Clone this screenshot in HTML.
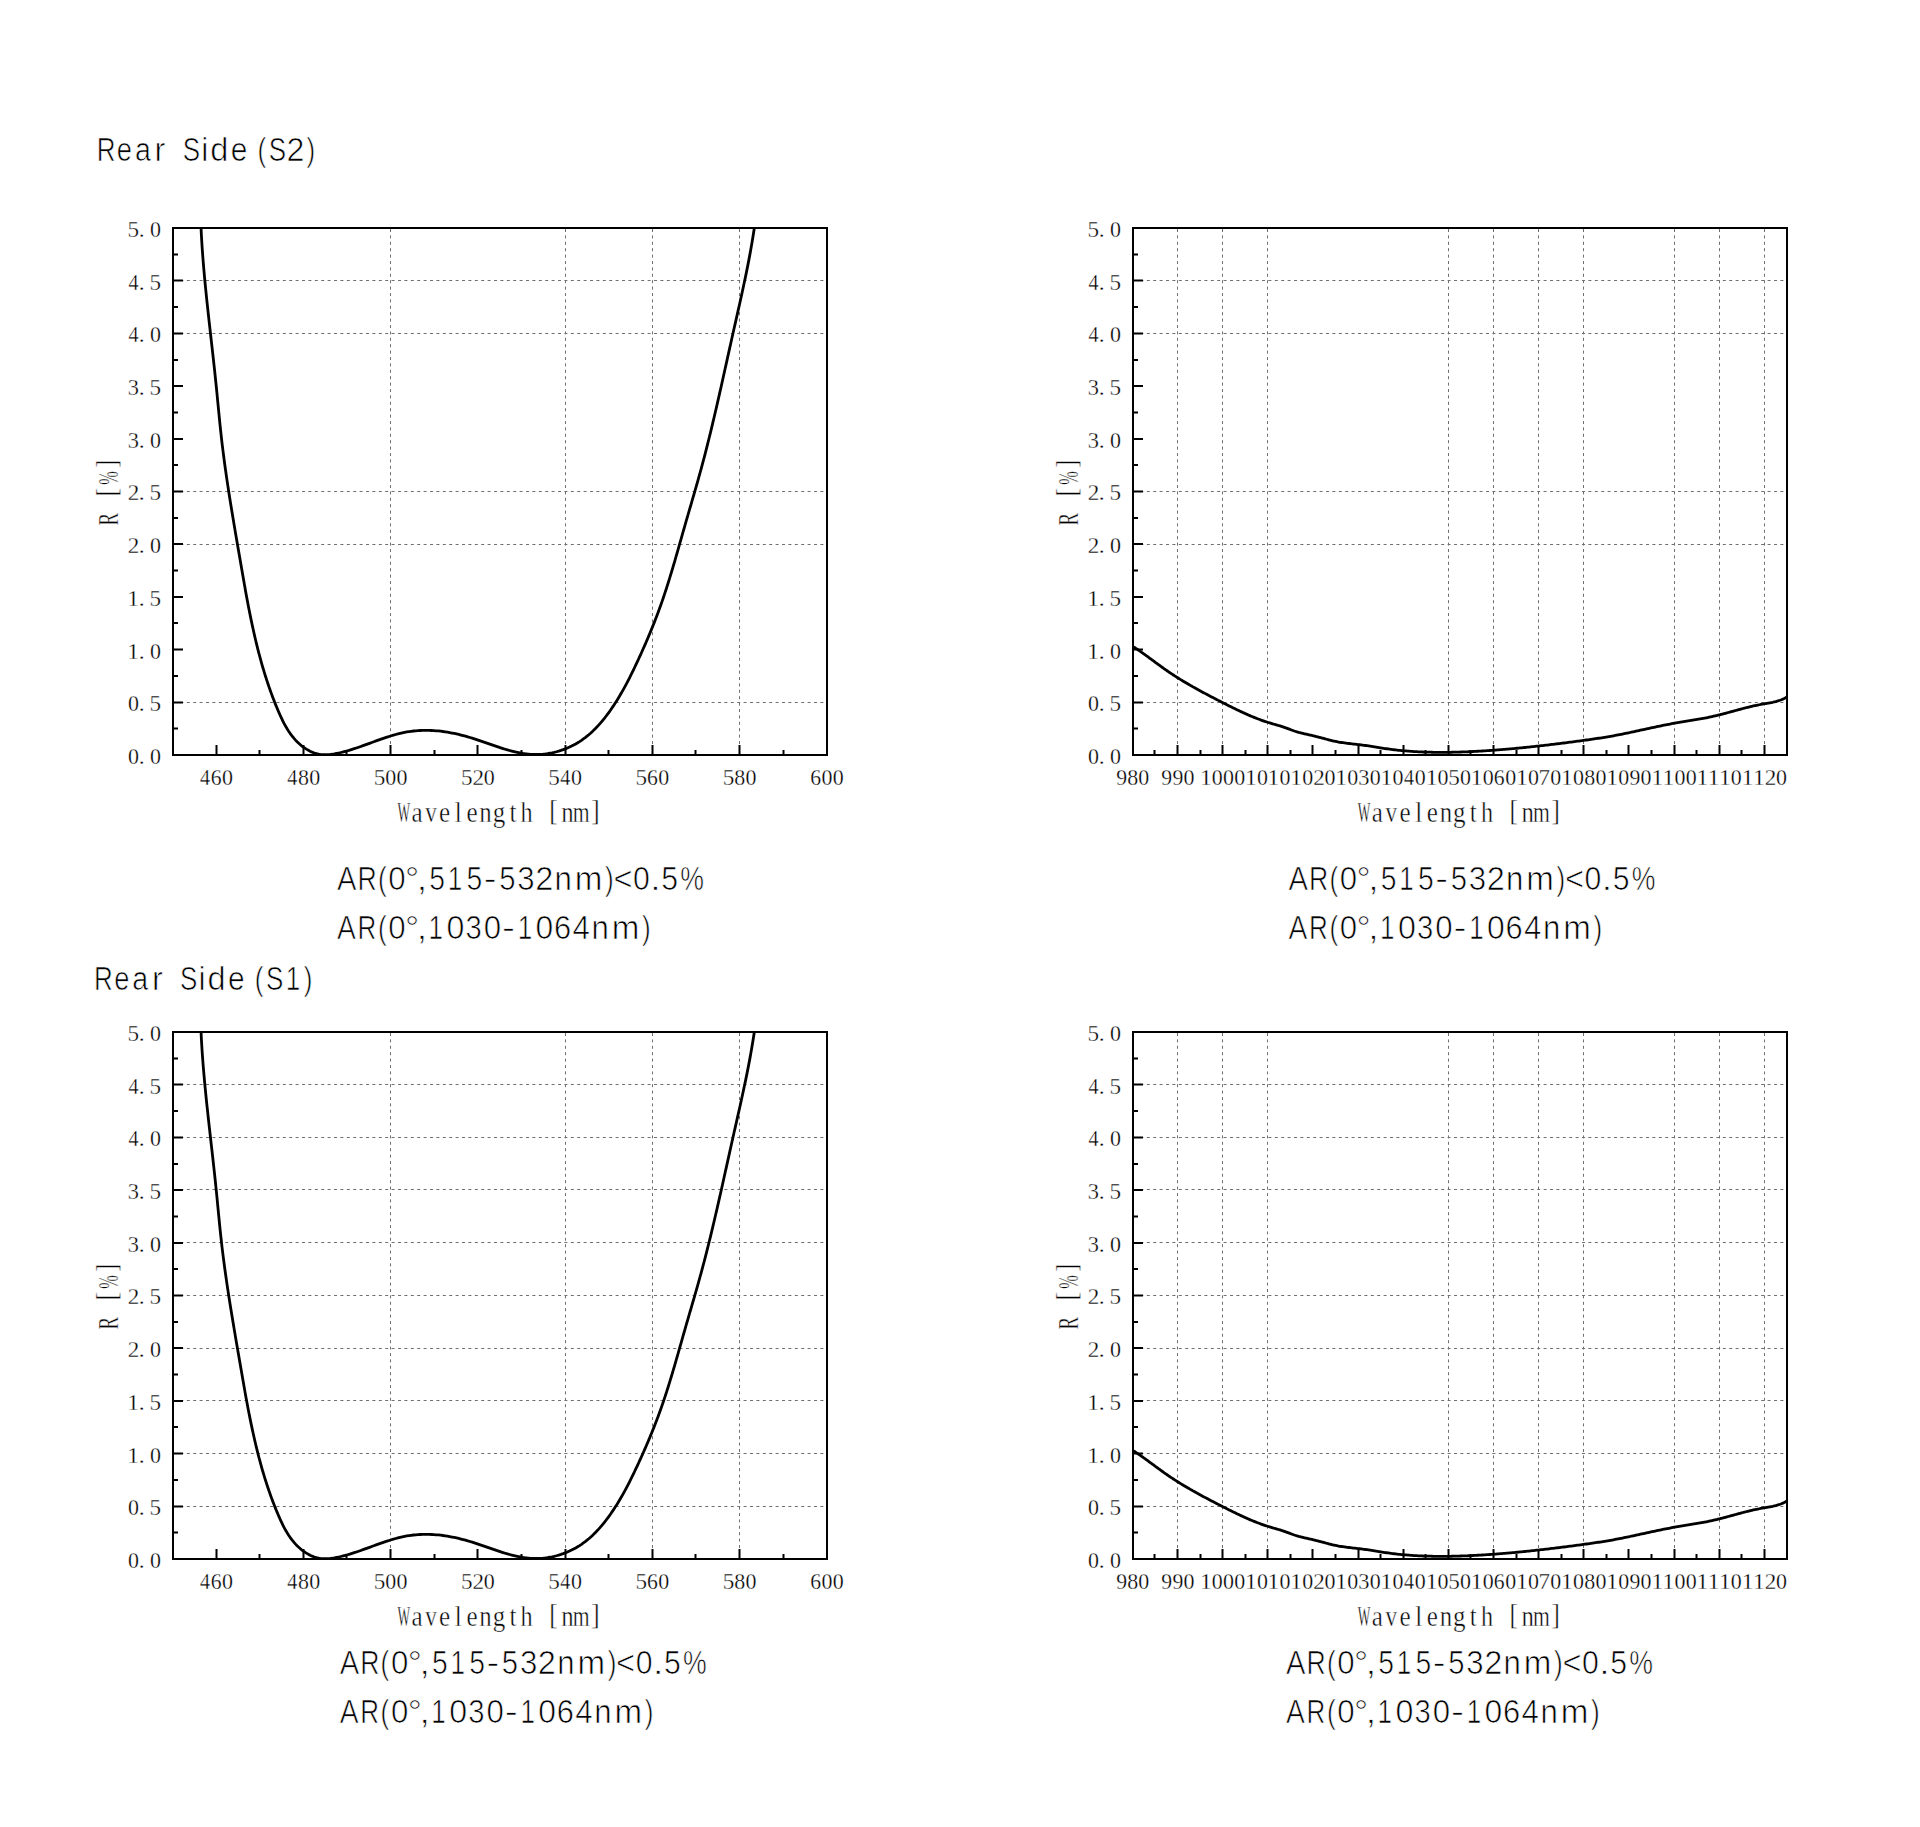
<!DOCTYPE html>
<html><head><meta charset="utf-8"><title>Rear Side Reflectance</title>
<style>html,body{margin:0;padding:0;background:#fff;width:1920px;height:1827px;overflow:hidden}svg{display:block}</style>
</head><body>
<svg width="1920" height="1827" viewBox="0 0 1920 1827">
<rect width="1920" height="1827" fill="#fff"/>
<path d="M174 280.5 H826 M174 333.5 H826 M174 491.5 H826 M174 544.5 H826 M174 702.5 H826 M390.5 229 V754 M565.5 229 V754 M652.5 229 V754 M739.5 229 V754" stroke="#707070" stroke-width="1" stroke-dasharray="3 3.4" fill="none"/>
<path d="M216.5 755 V745 M303.5 755 V745 M390.5 755 V745 M477.5 755 V745 M565.5 755 V745 M652.5 755 V745 M739.5 755 V745 M259.5 755 V750 M346.5 755 V750 M434.5 755 V750 M521.5 755 V750 M608.5 755 V750 M695.5 755 V750 M783.5 755 V750 M173 728.5 H178 M173 702.5 H183 M173 676 H178 M173 649.5 H183 M173 623 H178 M173 597 H183 M173 570.5 H178 M173 544 H183 M173 518 H178 M173 491.5 H183 M173 465 H178 M173 439 H183 M173 412.5 H178 M173 386 H183 M173 360 H178 M173 333.5 H183 M173 307 H178 M173 280.5 H183 M173 254.5 H178" stroke="#000" stroke-width="2" fill="none"/>
<rect x="173" y="228" width="654" height="527" fill="none" stroke="#000" stroke-width="2"/>
<path d="M201.04 227.99 L201.15 230.29 L201.26 232.58 L201.38 234.87 L201.51 237.16 L201.64 239.45 L201.78 241.74 L201.92 244.03 L202.07 246.31 L202.22 248.6 L202.38 250.89 L202.55 253.17 L202.72 255.46 L202.89 257.74 L203.07 260.03 L203.25 262.31 L203.44 264.6 L203.63 266.88 L203.82 269.16 L204.02 271.45 L204.23 273.73 L204.43 276.01 L204.64 278.29 L204.86 280.57 L205.07 282.85 L205.29 285.13 L205.52 287.41 L205.74 289.69 L205.97 291.97 L206.2 294.25 L206.44 296.53 L206.67 298.81 L206.91 301.09 L207.15 303.37 L207.4 305.65 L207.64 307.92 L207.89 310.2 L208.13 312.48 L208.38 314.76 L208.64 317.03 L208.89 319.31 L209.14 321.59 L209.4 323.86 L209.65 326.14 L209.91 328.42 L210.16 330.69 L210.42 332.97 L210.68 335.25 L210.93 337.52 L211.19 339.8 L211.45 342.08 L211.71 344.35 L211.96 346.63 L212.22 348.9 L212.48 351.18 L212.73 353.46 L212.99 355.73 L213.24 358.01 L213.49 360.29 L213.74 362.56 L213.99 364.84 L214.24 367.12 L214.49 369.4 L214.73 371.67 L214.97 373.95 L215.22 376.23 L215.45 378.51 L215.69 380.78 L215.93 383.06 L216.16 385.34 L216.39 387.62 L216.61 389.9 L216.84 392.18 L217.06 394.46 L217.28 396.74 L217.5 399.02 L217.72 401.3 L217.94 403.58 L218.16 405.86 L218.38 408.13 L218.6 410.41 L218.83 412.69 L219.05 414.97 L219.27 417.25 L219.5 419.53 L219.73 421.81 L219.96 424.09 L220.19 426.36 L220.43 428.64 L220.67 430.92 L220.92 433.19 L221.17 435.47 L221.42 437.74 L221.68 440.02 L221.94 442.29 L222.21 444.56 L222.49 446.84 L222.77 449.11 L223.05 451.38 L223.34 453.65 L223.63 455.92 L223.93 458.19 L224.23 460.46 L224.53 462.73 L224.84 465 L225.15 467.27 L225.47 469.54 L225.79 471.8 L226.11 474.07 L226.44 476.34 L226.77 478.6 L227.11 480.87 L227.44 483.13 L227.78 485.4 L228.13 487.66 L228.47 489.93 L228.82 492.19 L229.18 494.45 L229.53 496.72 L229.89 498.98 L230.25 501.24 L230.61 503.5 L230.98 505.77 L231.34 508.03 L231.71 510.29 L232.08 512.55 L232.46 514.81 L232.83 517.07 L233.21 519.34 L233.58 521.6 L233.96 523.86 L234.34 526.12 L234.73 528.38 L235.11 530.64 L235.49 532.9 L235.88 535.16 L236.26 537.42 L236.65 539.68 L237.04 541.94 L237.43 544.2 L237.81 546.46 L238.2 548.72 L238.59 550.98 L238.98 553.24 L239.37 555.5 L239.76 557.76 L240.15 560.02 L240.54 562.28 L240.93 564.54 L241.32 566.8 L241.71 569.06 L242.1 571.32 L242.49 573.57 L242.88 575.83 L243.28 578.09 L243.67 580.35 L244.07 582.61 L244.47 584.87 L244.87 587.12 L245.28 589.38 L245.68 591.63 L246.09 593.89 L246.51 596.14 L246.93 598.4 L247.35 600.65 L247.77 602.9 L248.2 605.15 L248.63 607.4 L249.07 609.65 L249.51 611.89 L249.96 614.14 L250.41 616.38 L250.87 618.62 L251.34 620.87 L251.81 623.11 L252.29 625.34 L252.77 627.58 L253.26 629.81 L253.76 632.05 L254.26 634.28 L254.77 636.51 L255.29 638.73 L255.82 640.96 L256.35 643.18 L256.89 645.4 L257.45 647.62 L258.01 649.84 L258.57 652.05 L259.15 654.27 L259.74 656.48 L260.34 658.68 L260.95 660.89 L261.56 663.09 L262.19 665.29 L262.83 667.49 L263.48 669.68 L264.14 671.87 L264.81 674.06 L265.49 676.25 L266.19 678.43 L266.9 680.61 L267.61 682.78 L268.35 684.96 L269.09 687.13 L269.85 689.29 L270.62 691.46 L271.4 693.62 L272.2 695.77 L273.01 697.93 L273.83 700.08 L274.67 702.22 L275.52 704.36 L276.39 706.5 L277.28 708.64 L278.17 710.77 L279.09 712.89 L280.03 715.01 L280.99 717.11 L281.97 719.19 L282.99 721.26 L284.04 723.31 L285.13 725.32 L286.25 727.31 L287.42 729.27 L288.64 731.19 L289.91 733.07 L291.23 734.9 L292.6 736.69 L294.04 738.43 L295.54 740.12 L297.1 741.75 L298.74 743.32 L300.44 744.82 L302.22 746.26 L304.08 747.63 L306.02 748.92 L308.01 750.11 L310.06 751.19 L312.16 752.16 L314.3 752.99 L316.47 753.68 L318.67 754.22 L320.89 754.58 L323.11 754.6 L325.35 754.6 L327.59 754.6 L329.84 754.55 L332.08 754.26 L334.32 753.9 L336.56 753.47 L338.79 753 L341.02 752.49 L343.23 751.94 L345.45 751.35 L347.65 750.73 L349.86 750.08 L352.05 749.4 L354.25 748.7 L356.44 747.97 L358.63 747.23 L360.81 746.47 L362.99 745.69 L365.17 744.91 L367.35 744.12 L369.53 743.32 L371.71 742.53 L373.88 741.73 L376.06 740.94 L378.24 740.16 L380.41 739.39 L382.59 738.63 L384.78 737.89 L386.96 737.16 L389.14 736.46 L391.33 735.78 L393.53 735.13 L395.72 734.52 L397.92 733.93 L400.13 733.38 L402.34 732.87 L404.55 732.41 L406.77 731.98 L409 731.61 L411.23 731.29 L413.47 731.01 L415.72 730.79 L417.97 730.61 L420.22 730.48 L422.48 730.39 L424.74 730.35 L427 730.35 L429.27 730.39 L431.54 730.48 L433.81 730.61 L436.08 730.78 L438.36 730.98 L440.63 731.23 L442.9 731.51 L445.17 731.83 L447.44 732.19 L449.71 732.58 L451.98 733.01 L454.24 733.47 L456.5 733.96 L458.76 734.48 L461.01 735.03 L463.26 735.61 L465.5 736.22 L467.74 736.86 L469.97 737.53 L472.19 738.21 L474.42 738.92 L476.63 739.65 L478.84 740.39 L481.05 741.13 L483.26 741.89 L485.46 742.65 L487.66 743.42 L489.86 744.18 L492.06 744.94 L494.25 745.69 L496.45 746.43 L498.64 747.15 L500.83 747.86 L503.03 748.55 L505.22 749.22 L507.42 749.86 L509.61 750.48 L511.81 751.06 L514.01 751.6 L516.22 752.11 L518.43 752.58 L520.64 753 L522.85 753.38 L525.07 753.71 L527.29 753.98 L529.52 754.2 L531.76 754.36 L534 754.45 L536.24 754.49 L538.5 754.45 L540.76 754.34 L543.02 754.17 L545.28 753.93 L547.54 753.63 L549.79 753.25 L552.04 752.82 L554.28 752.32 L556.51 751.75 L558.73 751.12 L560.93 750.44 L563.11 749.68 L565.27 748.87 L567.4 748 L569.52 747.07 L571.6 746.09 L573.65 745.04 L575.68 743.94 L577.66 742.78 L579.61 741.57 L581.52 740.3 L583.39 738.98 L585.23 737.62 L587.03 736.2 L588.79 734.74 L590.52 733.23 L592.21 731.68 L593.87 730.1 L595.5 728.47 L597.09 726.82 L598.65 725.13 L600.19 723.41 L601.69 721.66 L603.16 719.88 L604.61 718.08 L606.02 716.26 L607.42 714.42 L608.78 712.57 L610.12 710.69 L611.44 708.81 L612.73 706.91 L614 705 L615.25 703.08 L616.47 701.15 L617.68 699.21 L618.86 697.26 L620.03 695.3 L621.18 693.33 L622.31 691.35 L623.43 689.36 L624.53 687.36 L625.61 685.36 L626.68 683.34 L627.74 681.32 L628.78 679.3 L629.81 677.26 L630.84 675.22 L631.85 673.18 L632.85 671.13 L633.84 669.07 L634.83 667.01 L635.81 664.94 L636.78 662.87 L637.75 660.8 L638.71 658.72 L639.67 656.64 L640.62 654.55 L641.56 652.46 L642.5 650.37 L643.44 648.28 L644.37 646.18 L645.29 644.08 L646.2 641.97 L647.11 639.86 L648.01 637.75 L648.9 635.63 L649.79 633.52 L650.67 631.39 L651.54 629.27 L652.4 627.14 L653.26 625.01 L654.1 622.87 L654.94 620.74 L655.77 618.6 L656.59 616.45 L657.41 614.3 L658.21 612.15 L659 610 L659.79 607.85 L660.56 605.69 L661.33 603.53 L662.08 601.36 L662.83 599.2 L663.57 597.03 L664.3 594.85 L665.02 592.68 L665.74 590.5 L666.44 588.32 L667.14 586.14 L667.84 583.96 L668.52 581.78 L669.2 579.59 L669.88 577.4 L670.55 575.21 L671.21 573.02 L671.87 570.83 L672.53 568.63 L673.18 566.44 L673.82 564.24 L674.47 562.04 L675.11 559.84 L675.74 557.65 L676.38 555.44 L677.01 553.24 L677.64 551.04 L678.27 548.84 L678.9 546.64 L679.52 544.43 L680.15 542.23 L680.77 540.03 L681.4 537.82 L682.03 535.62 L682.65 533.42 L683.28 531.21 L683.91 529.01 L684.54 526.81 L685.17 524.6 L685.8 522.4 L686.44 520.2 L687.07 518 L687.71 515.8 L688.35 513.6 L688.99 511.4 L689.63 509.2 L690.27 507 L690.91 504.8 L691.55 502.6 L692.19 500.4 L692.83 498.2 L693.47 496 L694.11 493.8 L694.74 491.6 L695.38 489.39 L696.01 487.19 L696.64 484.99 L697.26 482.79 L697.89 480.58 L698.51 478.38 L699.12 476.17 L699.74 473.96 L700.35 471.75 L700.95 469.55 L701.55 467.34 L702.15 465.12 L702.74 462.91 L703.33 460.7 L703.91 458.48 L704.49 456.27 L705.07 454.05 L705.64 451.83 L706.21 449.61 L706.78 447.39 L707.34 445.17 L707.9 442.95 L708.45 440.73 L709 438.51 L709.55 436.28 L710.1 434.06 L710.64 431.83 L711.18 429.61 L711.72 427.38 L712.25 425.15 L712.78 422.92 L713.31 420.69 L713.84 418.46 L714.36 416.23 L714.88 414 L715.4 411.77 L715.92 409.54 L716.44 407.31 L716.95 405.07 L717.46 402.84 L717.97 400.61 L718.48 398.37 L718.99 396.14 L719.5 393.9 L720 391.67 L720.5 389.43 L721.01 387.2 L721.51 384.96 L722.01 382.72 L722.51 380.49 L723 378.25 L723.5 376.01 L724 373.78 L724.5 371.54 L724.99 369.3 L725.49 367.06 L725.98 364.83 L726.48 362.59 L726.97 360.35 L727.47 358.11 L727.96 355.88 L728.46 353.64 L728.96 351.4 L729.45 349.16 L729.95 346.93 L730.45 344.69 L730.94 342.45 L731.44 340.22 L731.94 337.98 L732.44 335.75 L732.94 333.51 L733.45 331.27 L733.95 329.04 L734.45 326.8 L734.96 324.57 L735.46 322.33 L735.97 320.1 L736.47 317.87 L736.98 315.63 L737.48 313.4 L737.99 311.16 L738.49 308.93 L738.99 306.69 L739.49 304.46 L739.99 302.22 L740.49 299.99 L740.98 297.75 L741.48 295.51 L741.97 293.28 L742.45 291.04 L742.94 288.8 L743.42 286.56 L743.9 284.32 L744.38 282.08 L744.85 279.84 L745.32 277.6 L745.79 275.36 L746.25 273.11 L746.71 270.87 L747.16 268.62 L747.61 266.38 L748.05 264.13 L748.49 261.88 L748.92 259.63 L749.35 257.38 L749.77 255.13 L750.19 252.88 L750.59 250.62 L751 248.37 L751.4 246.11 L751.79 243.85 L752.17 241.59 L752.54 239.33 L752.91 237.07 L753.28 234.8 L753.63 232.53 L753.98 230.27 L754.31 227.99" stroke="#000" stroke-width="2.8" fill="none" stroke-linejoin="round"/>
<g font-family='"Liberation Serif", serif' font-size="23.6" fill="#000" stroke="#fff" stroke-width="0.3"><text transform="translate(133.5 763.9) scale(0.93 1)" text-anchor="middle">0</text><text transform="translate(141.6 763.9) scale(1 1)" text-anchor="middle">.</text><text transform="translate(155.5 763.9) scale(0.93 1)" text-anchor="middle">0</text><text transform="translate(133.5 711.2) scale(0.93 1)" text-anchor="middle">0</text><text transform="translate(141.6 711.2) scale(1 1)" text-anchor="middle">.</text><text transform="translate(155.28 711.2) scale(0.98 1)" text-anchor="middle">5</text><text transform="translate(133.17 658.5) scale(1 1)" text-anchor="middle">1</text><text transform="translate(141.6 658.5) scale(1 1)" text-anchor="middle">.</text><text transform="translate(155.5 658.5) scale(0.93 1)" text-anchor="middle">0</text><text transform="translate(133.17 605.8) scale(1 1)" text-anchor="middle">1</text><text transform="translate(141.6 605.8) scale(1 1)" text-anchor="middle">.</text><text transform="translate(155.28 605.8) scale(0.98 1)" text-anchor="middle">5</text><text transform="translate(133.63 553.1) scale(0.98 1)" text-anchor="middle">2</text><text transform="translate(141.6 553.1) scale(1 1)" text-anchor="middle">.</text><text transform="translate(155.5 553.1) scale(0.93 1)" text-anchor="middle">0</text><text transform="translate(133.63 500.4) scale(0.98 1)" text-anchor="middle">2</text><text transform="translate(141.6 500.4) scale(1 1)" text-anchor="middle">.</text><text transform="translate(155.28 500.4) scale(0.98 1)" text-anchor="middle">5</text><text transform="translate(133.4 447.7) scale(0.95 1)" text-anchor="middle">3</text><text transform="translate(141.6 447.7) scale(1 1)" text-anchor="middle">.</text><text transform="translate(155.5 447.7) scale(0.93 1)" text-anchor="middle">0</text><text transform="translate(133.4 395) scale(0.95 1)" text-anchor="middle">3</text><text transform="translate(141.6 395) scale(1 1)" text-anchor="middle">.</text><text transform="translate(155.28 395) scale(0.98 1)" text-anchor="middle">5</text><text transform="translate(133.46 342.3) scale(0.85 1)" text-anchor="middle">4</text><text transform="translate(141.6 342.3) scale(1 1)" text-anchor="middle">.</text><text transform="translate(155.5 342.3) scale(0.93 1)" text-anchor="middle">0</text><text transform="translate(133.46 289.6) scale(0.85 1)" text-anchor="middle">4</text><text transform="translate(141.6 289.6) scale(1 1)" text-anchor="middle">.</text><text transform="translate(155.28 289.6) scale(0.98 1)" text-anchor="middle">5</text><text transform="translate(133.28 236.9) scale(0.98 1)" text-anchor="middle">5</text><text transform="translate(141.6 236.9) scale(1 1)" text-anchor="middle">.</text><text transform="translate(155.5 236.9) scale(0.93 1)" text-anchor="middle">0</text><text transform="translate(205.09 785) scale(0.85 1)" text-anchor="middle">4</text><text transform="translate(216.18 785) scale(0.92 1)" text-anchor="middle">6</text><text transform="translate(227.53 785) scale(0.93 1)" text-anchor="middle">0</text><text transform="translate(292.34 785) scale(0.85 1)" text-anchor="middle">4</text><text transform="translate(303.57 785) scale(0.93 1)" text-anchor="middle">8</text><text transform="translate(314.77 785) scale(0.93 1)" text-anchor="middle">0</text><text transform="translate(379.41 785) scale(0.98 1)" text-anchor="middle">5</text><text transform="translate(390.82 785) scale(0.93 1)" text-anchor="middle">0</text><text transform="translate(402.02 785) scale(0.93 1)" text-anchor="middle">0</text><text transform="translate(466.66 785) scale(0.98 1)" text-anchor="middle">5</text><text transform="translate(478.21 785) scale(0.98 1)" text-anchor="middle">2</text><text transform="translate(489.27 785) scale(0.93 1)" text-anchor="middle">0</text><text transform="translate(553.91 785) scale(0.98 1)" text-anchor="middle">5</text><text transform="translate(565.29 785) scale(0.85 1)" text-anchor="middle">4</text><text transform="translate(576.52 785) scale(0.93 1)" text-anchor="middle">0</text><text transform="translate(641.16 785) scale(0.98 1)" text-anchor="middle">5</text><text transform="translate(652.43 785) scale(0.92 1)" text-anchor="middle">6</text><text transform="translate(663.77 785) scale(0.93 1)" text-anchor="middle">0</text><text transform="translate(728.41 785) scale(0.98 1)" text-anchor="middle">5</text><text transform="translate(739.82 785) scale(0.93 1)" text-anchor="middle">8</text><text transform="translate(751.02 785) scale(0.93 1)" text-anchor="middle">0</text><text transform="translate(815.73 785) scale(0.92 1)" text-anchor="middle">6</text><text transform="translate(827.07 785) scale(0.93 1)" text-anchor="middle">0</text><text transform="translate(838.27 785) scale(0.93 1)" text-anchor="middle">0</text></g>
<g font-family='"Liberation Serif", serif' font-size="28.5" fill="#000" stroke="#fff" stroke-width="0.45"><text transform="translate(403.76 821.9) scale(0.47 1)" text-anchor="middle">W</text><text transform="translate(417.13 821.9) scale(0.88 1)" text-anchor="middle">a</text><text transform="translate(431.05 821.9) scale(0.81 1)" text-anchor="middle">v</text><text transform="translate(444.64 821.9) scale(0.88 1)" text-anchor="middle">e</text><text transform="translate(458.35 821.9) scale(0.88 1)" text-anchor="middle">l</text><text transform="translate(471.94 821.9) scale(0.88 1)" text-anchor="middle">e</text><text transform="translate(485.55 821.9) scale(0.87 1)" text-anchor="middle">n</text><text transform="translate(499 821.9) scale(0.88 1)" text-anchor="middle">g</text><text transform="translate(512.9 821.9) scale(0.88 1)" text-anchor="middle">t</text><text transform="translate(526.64 821.9) scale(0.85 1)" text-anchor="middle">h</text><text transform="translate(553.42 819.9) scale(0.88 1)" text-anchor="middle">[</text><text transform="translate(567.45 821.9) scale(0.87 1)" text-anchor="middle">n</text><text transform="translate(581.14 821.9) scale(0.76 1)" text-anchor="middle">m</text><text transform="translate(595.33 819.9) scale(0.88 1)" text-anchor="middle">]</text></g>
<g transform="translate(117.6 519) rotate(-90)" font-family='"Liberation Serif", serif' font-size="28.5" fill="#000" stroke="#fff" stroke-width="0.45"><text transform="translate(-0.26 0) scale(0.66 1)" text-anchor="middle">R</text><text transform="translate(26.82 -2) scale(0.88 1)" text-anchor="middle">[</text><text transform="translate(40.95 0) scale(0.57 1)" text-anchor="middle">%</text><text transform="translate(55.08 -2) scale(0.88 1)" text-anchor="middle">]</text></g>
<path d="M1134 280.5 H1786 M1134 333.5 H1786 M1134 491.5 H1786 M1134 544.5 H1786 M1134 702.5 H1786 M1177.5 229 V754 M1222.5 229 V754 M1267.5 229 V754 M1448.5 229 V754 M1493.5 229 V754 M1538.5 229 V754 M1583.5 229 V754 M1674.5 229 V754 M1719.5 229 V754 M1764.5 229 V754" stroke="#707070" stroke-width="1" stroke-dasharray="3 3.4" fill="none"/>
<path d="M1177.5 755 V745 M1222.5 755 V745 M1267.5 755 V745 M1312.5 755 V745 M1358.5 755 V745 M1403.5 755 V745 M1448.5 755 V745 M1493.5 755 V745 M1538.5 755 V745 M1583.5 755 V745 M1628.5 755 V745 M1674.5 755 V745 M1719.5 755 V745 M1764.5 755 V745 M1154.5 755 V750 M1200.5 755 V750 M1245.5 755 V750 M1290.5 755 V750 M1335.5 755 V750 M1380.5 755 V750 M1425.5 755 V750 M1470.5 755 V750 M1516.5 755 V750 M1561.5 755 V750 M1606.5 755 V750 M1651.5 755 V750 M1696.5 755 V750 M1741.5 755 V750 M1133 728.5 H1138 M1133 702.5 H1143 M1133 676 H1138 M1133 649.5 H1143 M1133 623 H1138 M1133 597 H1143 M1133 570.5 H1138 M1133 544 H1143 M1133 518 H1138 M1133 491.5 H1143 M1133 465 H1138 M1133 439 H1143 M1133 412.5 H1138 M1133 386 H1143 M1133 360 H1138 M1133 333.5 H1143 M1133 307 H1138 M1133 280.5 H1143 M1133 254.5 H1138" stroke="#000" stroke-width="2" fill="none"/>
<rect x="1133" y="228" width="654" height="527" fill="none" stroke="#000" stroke-width="2"/>
<path d="M1133.66 646.9 L1134.94 647.74 L1136.21 648.58 L1137.47 649.43 L1138.72 650.29 L1139.98 651.16 L1141.22 652.03 L1142.46 652.91 L1143.7 653.79 L1144.93 654.68 L1146.17 655.57 L1147.39 656.47 L1148.62 657.37 L1149.84 658.27 L1151.07 659.17 L1152.29 660.07 L1153.51 660.98 L1154.73 661.88 L1155.96 662.78 L1157.18 663.68 L1158.41 664.58 L1159.63 665.48 L1160.86 666.37 L1162.1 667.26 L1163.33 668.15 L1164.57 669.03 L1165.82 669.9 L1167.07 670.77 L1168.32 671.63 L1169.58 672.49 L1170.85 673.34 L1172.12 674.18 L1173.39 675.02 L1174.67 675.85 L1175.95 676.67 L1177.23 677.49 L1178.52 678.3 L1179.81 679.1 L1181.11 679.9 L1182.41 680.7 L1183.71 681.49 L1185.02 682.27 L1186.33 683.04 L1187.64 683.82 L1188.95 684.58 L1190.27 685.34 L1191.59 686.09 L1192.9 686.84 L1194.23 687.59 L1195.55 688.32 L1196.88 689.06 L1198.2 689.79 L1199.53 690.51 L1200.86 691.23 L1202.19 691.95 L1203.53 692.66 L1204.86 693.37 L1206.2 694.08 L1207.54 694.79 L1208.88 695.49 L1210.22 696.19 L1211.56 696.89 L1212.9 697.59 L1214.25 698.28 L1215.6 698.98 L1216.94 699.67 L1218.29 700.37 L1219.64 701.06 L1220.99 701.76 L1222.35 702.45 L1223.7 703.14 L1225.05 703.83 L1226.41 704.52 L1227.77 705.21 L1229.13 705.89 L1230.49 706.57 L1231.86 707.25 L1233.22 707.92 L1234.59 708.59 L1235.96 709.26 L1237.33 709.92 L1238.71 710.58 L1240.09 711.23 L1241.47 711.87 L1242.85 712.51 L1244.24 713.14 L1245.62 713.77 L1247.02 714.38 L1248.41 714.99 L1249.81 715.6 L1251.21 716.19 L1252.61 716.77 L1254.02 717.35 L1255.43 717.92 L1256.84 718.47 L1258.26 719.02 L1259.68 719.55 L1261.11 720.07 L1262.54 720.59 L1263.98 721.08 L1265.42 721.57 L1266.86 722.04 L1268.31 722.5 L1269.76 722.95 L1271.22 723.38 L1272.68 723.81 L1274.14 724.24 L1275.6 724.66 L1277.06 725.09 L1278.51 725.52 L1279.97 725.96 L1281.42 726.41 L1282.87 726.87 L1284.31 727.34 L1285.74 727.84 L1287.17 728.36 L1288.59 728.89 L1290.01 729.42 L1291.43 729.96 L1292.85 730.48 L1294.28 731 L1295.71 731.48 L1297.15 731.94 L1298.6 732.35 L1300.07 732.73 L1301.54 733.09 L1303.01 733.44 L1304.49 733.77 L1305.97 734.11 L1307.45 734.44 L1308.93 734.78 L1310.4 735.11 L1311.88 735.45 L1313.36 735.8 L1314.84 736.15 L1316.31 736.52 L1317.78 736.89 L1319.26 737.27 L1320.73 737.66 L1322.2 738.06 L1323.67 738.46 L1325.14 738.86 L1326.61 739.26 L1328.08 739.65 L1329.55 740.04 L1331.02 740.41 L1332.5 740.77 L1333.98 741.11 L1335.46 741.43 L1336.95 741.73 L1338.44 742.01 L1339.94 742.27 L1341.43 742.5 L1342.94 742.72 L1344.44 742.93 L1345.95 743.13 L1347.45 743.32 L1348.96 743.5 L1350.47 743.67 L1351.99 743.85 L1353.5 744.03 L1355.01 744.2 L1356.52 744.38 L1358.04 744.56 L1359.55 744.74 L1361.06 744.92 L1362.57 745.11 L1364.08 745.3 L1365.59 745.5 L1367.1 745.7 L1368.61 745.91 L1370.11 746.13 L1371.61 746.36 L1373.11 746.59 L1374.61 746.83 L1376.11 747.08 L1377.61 747.32 L1379.1 747.57 L1380.6 747.81 L1382.09 748.06 L1383.59 748.3 L1385.09 748.53 L1386.59 748.75 L1388.09 748.97 L1389.59 749.18 L1391.1 749.38 L1392.6 749.57 L1394.11 749.76 L1395.61 749.93 L1397.12 750.11 L1398.63 750.27 L1400.14 750.43 L1401.66 750.57 L1403.17 750.72 L1404.68 750.85 L1406.2 750.98 L1407.71 751.1 L1409.23 751.22 L1410.75 751.33 L1412.26 751.43 L1413.78 751.53 L1415.3 751.62 L1416.82 751.71 L1418.34 751.79 L1419.86 751.86 L1421.38 751.93 L1422.9 751.99 L1424.42 752.05 L1425.94 752.1 L1427.46 752.14 L1428.98 752.19 L1430.51 752.22 L1432.03 752.25 L1433.55 752.28 L1435.07 752.3 L1436.59 752.32 L1438.11 752.33 L1439.63 752.34 L1441.16 752.34 L1442.68 752.34 L1444.2 752.34 L1445.72 752.33 L1447.24 752.32 L1448.76 752.3 L1450.28 752.28 L1451.8 752.25 L1453.32 752.22 L1454.84 752.19 L1456.36 752.15 L1457.88 752.11 L1459.4 752.07 L1460.92 752.02 L1462.44 751.97 L1463.96 751.91 L1465.47 751.85 L1466.99 751.79 L1468.51 751.73 L1470.03 751.66 L1471.55 751.59 L1473.07 751.51 L1474.59 751.43 L1476.1 751.35 L1477.62 751.27 L1479.14 751.18 L1480.66 751.09 L1482.17 751 L1483.69 750.91 L1485.21 750.81 L1486.72 750.71 L1488.24 750.61 L1489.76 750.5 L1491.27 750.4 L1492.79 750.29 L1494.31 750.18 L1495.82 750.06 L1497.34 749.95 L1498.85 749.83 L1500.37 749.71 L1501.88 749.59 L1503.4 749.46 L1504.91 749.33 L1506.43 749.21 L1507.94 749.08 L1509.46 748.94 L1510.97 748.81 L1512.48 748.67 L1514 748.53 L1515.51 748.39 L1517.03 748.25 L1518.54 748.1 L1520.05 747.96 L1521.57 747.81 L1523.08 747.66 L1524.59 747.51 L1526.1 747.35 L1527.62 747.2 L1529.13 747.04 L1530.64 746.88 L1532.15 746.72 L1533.67 746.56 L1535.18 746.39 L1536.69 746.23 L1538.2 746.06 L1539.71 745.89 L1541.22 745.72 L1542.74 745.55 L1544.25 745.37 L1545.76 745.2 L1547.27 745.02 L1548.78 744.84 L1550.29 744.67 L1551.8 744.48 L1553.31 744.3 L1554.82 744.12 L1556.33 743.93 L1557.84 743.75 L1559.35 743.56 L1560.86 743.37 L1562.37 743.18 L1563.88 742.99 L1565.39 742.8 L1566.9 742.61 L1568.41 742.41 L1569.92 742.21 L1571.43 742.02 L1572.94 741.82 L1574.45 741.62 L1575.96 741.42 L1577.47 741.22 L1578.98 741.02 L1580.49 740.82 L1582 740.61 L1583.51 740.41 L1585.02 740.2 L1586.52 739.99 L1588.03 739.78 L1589.54 739.57 L1591.05 739.36 L1592.56 739.14 L1594.06 738.92 L1595.57 738.7 L1597.07 738.48 L1598.58 738.25 L1600.08 738.02 L1601.59 737.79 L1603.09 737.55 L1604.6 737.31 L1606.1 737.06 L1607.6 736.81 L1609.1 736.56 L1610.6 736.3 L1612.1 736.04 L1613.59 735.77 L1615.09 735.49 L1616.59 735.21 L1618.08 734.93 L1619.57 734.64 L1621.07 734.34 L1622.56 734.04 L1624.05 733.74 L1625.54 733.43 L1627.03 733.12 L1628.51 732.81 L1630 732.5 L1631.49 732.18 L1632.98 731.86 L1634.46 731.54 L1635.95 731.21 L1637.44 730.89 L1638.92 730.56 L1640.41 730.24 L1641.89 729.91 L1643.38 729.59 L1644.86 729.26 L1646.35 728.94 L1647.83 728.61 L1649.32 728.29 L1650.81 727.97 L1652.29 727.65 L1653.78 727.34 L1655.27 727.02 L1656.75 726.71 L1658.24 726.4 L1659.73 726.1 L1661.22 725.79 L1662.71 725.49 L1664.2 725.19 L1665.69 724.9 L1667.18 724.6 L1668.67 724.31 L1670.16 724.03 L1671.66 723.74 L1673.15 723.46 L1674.65 723.19 L1676.14 722.91 L1677.64 722.64 L1679.14 722.37 L1680.64 722.11 L1682.14 721.85 L1683.64 721.59 L1685.14 721.34 L1686.64 721.09 L1688.15 720.84 L1689.65 720.6 L1691.16 720.36 L1692.66 720.12 L1694.17 719.87 L1695.67 719.63 L1697.18 719.38 L1698.68 719.13 L1700.18 718.88 L1701.68 718.62 L1703.18 718.35 L1704.68 718.08 L1706.18 717.8 L1707.67 717.51 L1709.16 717.21 L1710.65 716.89 L1712.14 716.57 L1713.62 716.24 L1715.1 715.89 L1716.58 715.54 L1718.05 715.18 L1719.53 714.81 L1721 714.44 L1722.47 714.06 L1723.94 713.67 L1725.41 713.28 L1726.88 712.89 L1728.34 712.49 L1729.81 712.09 L1731.28 711.69 L1732.74 711.29 L1734.21 710.88 L1735.67 710.48 L1737.14 710.08 L1738.61 709.68 L1740.08 709.29 L1741.54 708.9 L1743.01 708.51 L1744.49 708.13 L1745.96 707.75 L1747.43 707.38 L1748.91 707.02 L1750.39 706.67 L1751.87 706.32 L1753.35 705.99 L1754.84 705.66 L1756.33 705.35 L1757.82 705.04 L1759.32 704.75 L1760.82 704.48 L1762.32 704.21 L1763.82 703.95 L1765.33 703.69 L1766.83 703.42 L1768.32 703.15 L1769.82 702.87 L1771.31 702.57 L1772.79 702.26 L1774.26 701.91 L1775.73 701.54 L1777.18 701.14 L1778.62 700.7 L1780.05 700.22 L1781.46 699.7 L1782.86 699.12 L1784.24 698.49 L1785.6 697.81 L1786.94 697.06" stroke="#000" stroke-width="2.8" fill="none" stroke-linejoin="round"/>
<g font-family='"Liberation Serif", serif' font-size="23.6" fill="#000" stroke="#fff" stroke-width="0.3"><text transform="translate(1093.5 763.9) scale(0.93 1)" text-anchor="middle">0</text><text transform="translate(1101.6 763.9) scale(1 1)" text-anchor="middle">.</text><text transform="translate(1115.5 763.9) scale(0.93 1)" text-anchor="middle">0</text><text transform="translate(1093.5 711.2) scale(0.93 1)" text-anchor="middle">0</text><text transform="translate(1101.6 711.2) scale(1 1)" text-anchor="middle">.</text><text transform="translate(1115.28 711.2) scale(0.98 1)" text-anchor="middle">5</text><text transform="translate(1093.17 658.5) scale(1 1)" text-anchor="middle">1</text><text transform="translate(1101.6 658.5) scale(1 1)" text-anchor="middle">.</text><text transform="translate(1115.5 658.5) scale(0.93 1)" text-anchor="middle">0</text><text transform="translate(1093.17 605.8) scale(1 1)" text-anchor="middle">1</text><text transform="translate(1101.6 605.8) scale(1 1)" text-anchor="middle">.</text><text transform="translate(1115.28 605.8) scale(0.98 1)" text-anchor="middle">5</text><text transform="translate(1093.63 553.1) scale(0.98 1)" text-anchor="middle">2</text><text transform="translate(1101.6 553.1) scale(1 1)" text-anchor="middle">.</text><text transform="translate(1115.5 553.1) scale(0.93 1)" text-anchor="middle">0</text><text transform="translate(1093.63 500.4) scale(0.98 1)" text-anchor="middle">2</text><text transform="translate(1101.6 500.4) scale(1 1)" text-anchor="middle">.</text><text transform="translate(1115.28 500.4) scale(0.98 1)" text-anchor="middle">5</text><text transform="translate(1093.4 447.7) scale(0.95 1)" text-anchor="middle">3</text><text transform="translate(1101.6 447.7) scale(1 1)" text-anchor="middle">.</text><text transform="translate(1115.5 447.7) scale(0.93 1)" text-anchor="middle">0</text><text transform="translate(1093.4 395) scale(0.95 1)" text-anchor="middle">3</text><text transform="translate(1101.6 395) scale(1 1)" text-anchor="middle">.</text><text transform="translate(1115.28 395) scale(0.98 1)" text-anchor="middle">5</text><text transform="translate(1093.46 342.3) scale(0.85 1)" text-anchor="middle">4</text><text transform="translate(1101.6 342.3) scale(1 1)" text-anchor="middle">.</text><text transform="translate(1115.5 342.3) scale(0.93 1)" text-anchor="middle">0</text><text transform="translate(1093.46 289.6) scale(0.85 1)" text-anchor="middle">4</text><text transform="translate(1101.6 289.6) scale(1 1)" text-anchor="middle">.</text><text transform="translate(1115.28 289.6) scale(0.98 1)" text-anchor="middle">5</text><text transform="translate(1093.28 236.9) scale(0.98 1)" text-anchor="middle">5</text><text transform="translate(1101.6 236.9) scale(1 1)" text-anchor="middle">.</text><text transform="translate(1115.5 236.9) scale(0.93 1)" text-anchor="middle">0</text><text transform="translate(1121.55 785) scale(0.92 1)" text-anchor="middle">9</text><text transform="translate(1132.65 785) scale(0.93 1)" text-anchor="middle">8</text><text transform="translate(1143.85 785) scale(0.93 1)" text-anchor="middle">0</text><text transform="translate(1166.69 785) scale(0.92 1)" text-anchor="middle">9</text><text transform="translate(1177.89 785) scale(0.92 1)" text-anchor="middle">9</text><text transform="translate(1189 785) scale(0.93 1)" text-anchor="middle">0</text><text transform="translate(1205.81 785) scale(1 1)" text-anchor="middle">1</text><text transform="translate(1217.34 785) scale(0.93 1)" text-anchor="middle">0</text><text transform="translate(1228.54 785) scale(0.93 1)" text-anchor="middle">0</text><text transform="translate(1239.74 785) scale(0.93 1)" text-anchor="middle">0</text><text transform="translate(1250.96 785) scale(1 1)" text-anchor="middle">1</text><text transform="translate(1262.49 785) scale(0.93 1)" text-anchor="middle">0</text><text transform="translate(1273.36 785) scale(1 1)" text-anchor="middle">1</text><text transform="translate(1284.89 785) scale(0.93 1)" text-anchor="middle">0</text><text transform="translate(1296.11 785) scale(1 1)" text-anchor="middle">1</text><text transform="translate(1307.63 785) scale(0.93 1)" text-anchor="middle">0</text><text transform="translate(1318.96 785) scale(0.98 1)" text-anchor="middle">2</text><text transform="translate(1330.03 785) scale(0.93 1)" text-anchor="middle">0</text><text transform="translate(1341.25 785) scale(1 1)" text-anchor="middle">1</text><text transform="translate(1352.78 785) scale(0.93 1)" text-anchor="middle">0</text><text transform="translate(1363.88 785) scale(0.95 1)" text-anchor="middle">3</text><text transform="translate(1375.18 785) scale(0.93 1)" text-anchor="middle">0</text><text transform="translate(1386.4 785) scale(1 1)" text-anchor="middle">1</text><text transform="translate(1397.93 785) scale(0.93 1)" text-anchor="middle">0</text><text transform="translate(1409.09 785) scale(0.85 1)" text-anchor="middle">4</text><text transform="translate(1420.33 785) scale(0.93 1)" text-anchor="middle">0</text><text transform="translate(1431.54 785) scale(1 1)" text-anchor="middle">1</text><text transform="translate(1443.07 785) scale(0.93 1)" text-anchor="middle">0</text><text transform="translate(1454.05 785) scale(0.98 1)" text-anchor="middle">5</text><text transform="translate(1465.47 785) scale(0.93 1)" text-anchor="middle">0</text><text transform="translate(1476.69 785) scale(1 1)" text-anchor="middle">1</text><text transform="translate(1488.22 785) scale(0.93 1)" text-anchor="middle">0</text><text transform="translate(1499.27 785) scale(0.92 1)" text-anchor="middle">6</text><text transform="translate(1510.62 785) scale(0.93 1)" text-anchor="middle">0</text><text transform="translate(1521.84 785) scale(1 1)" text-anchor="middle">1</text><text transform="translate(1533.36 785) scale(0.93 1)" text-anchor="middle">0</text><text transform="translate(1544.14 785) scale(0.97 1)" text-anchor="middle">7</text><text transform="translate(1555.76 785) scale(0.93 1)" text-anchor="middle">0</text><text transform="translate(1566.98 785) scale(1 1)" text-anchor="middle">1</text><text transform="translate(1578.51 785) scale(0.93 1)" text-anchor="middle">0</text><text transform="translate(1589.71 785) scale(0.93 1)" text-anchor="middle">8</text><text transform="translate(1600.91 785) scale(0.93 1)" text-anchor="middle">0</text><text transform="translate(1612.13 785) scale(1 1)" text-anchor="middle">1</text><text transform="translate(1623.66 785) scale(0.93 1)" text-anchor="middle">0</text><text transform="translate(1634.95 785) scale(0.92 1)" text-anchor="middle">9</text><text transform="translate(1646.06 785) scale(0.93 1)" text-anchor="middle">0</text><text transform="translate(1657.27 785) scale(1 1)" text-anchor="middle">1</text><text transform="translate(1668.47 785) scale(1 1)" text-anchor="middle">1</text><text transform="translate(1680 785) scale(0.93 1)" text-anchor="middle">0</text><text transform="translate(1691.2 785) scale(0.93 1)" text-anchor="middle">0</text><text transform="translate(1702.42 785) scale(1 1)" text-anchor="middle">1</text><text transform="translate(1713.62 785) scale(1 1)" text-anchor="middle">1</text><text transform="translate(1724.82 785) scale(1 1)" text-anchor="middle">1</text><text transform="translate(1736.35 785) scale(0.93 1)" text-anchor="middle">0</text><text transform="translate(1747.57 785) scale(1 1)" text-anchor="middle">1</text><text transform="translate(1758.77 785) scale(1 1)" text-anchor="middle">1</text><text transform="translate(1770.42 785) scale(0.98 1)" text-anchor="middle">2</text><text transform="translate(1781.49 785) scale(0.93 1)" text-anchor="middle">0</text></g>
<g font-family='"Liberation Serif", serif' font-size="28.5" fill="#000" stroke="#fff" stroke-width="0.45"><text transform="translate(1364.06 821.9) scale(0.47 1)" text-anchor="middle">W</text><text transform="translate(1377.43 821.9) scale(0.88 1)" text-anchor="middle">a</text><text transform="translate(1391.35 821.9) scale(0.81 1)" text-anchor="middle">v</text><text transform="translate(1404.94 821.9) scale(0.88 1)" text-anchor="middle">e</text><text transform="translate(1418.65 821.9) scale(0.88 1)" text-anchor="middle">l</text><text transform="translate(1432.24 821.9) scale(0.88 1)" text-anchor="middle">e</text><text transform="translate(1445.85 821.9) scale(0.87 1)" text-anchor="middle">n</text><text transform="translate(1459.3 821.9) scale(0.88 1)" text-anchor="middle">g</text><text transform="translate(1473.2 821.9) scale(0.88 1)" text-anchor="middle">t</text><text transform="translate(1486.94 821.9) scale(0.85 1)" text-anchor="middle">h</text><text transform="translate(1513.72 819.9) scale(0.88 1)" text-anchor="middle">[</text><text transform="translate(1527.75 821.9) scale(0.87 1)" text-anchor="middle">n</text><text transform="translate(1541.44 821.9) scale(0.76 1)" text-anchor="middle">m</text><text transform="translate(1555.63 819.9) scale(0.88 1)" text-anchor="middle">]</text></g>
<g transform="translate(1077.6 519) rotate(-90)" font-family='"Liberation Serif", serif' font-size="28.5" fill="#000" stroke="#fff" stroke-width="0.45"><text transform="translate(-0.26 0) scale(0.66 1)" text-anchor="middle">R</text><text transform="translate(26.82 -2) scale(0.88 1)" text-anchor="middle">[</text><text transform="translate(40.95 0) scale(0.57 1)" text-anchor="middle">%</text><text transform="translate(55.08 -2) scale(0.88 1)" text-anchor="middle">]</text></g>
<path d="M174 1084.5 H826 M174 1137.5 H826 M174 1189.5 H826 M174 1242.5 H826 M174 1295.5 H826 M174 1348.5 H826 M174 1400.5 H826 M174 1453.5 H826 M174 1506.5 H826 M390.5 1033 V1558 M565.5 1033 V1558 M652.5 1033 V1558 M739.5 1033 V1558" stroke="#707070" stroke-width="1" stroke-dasharray="3 3.4" fill="none"/>
<path d="M216.5 1559 V1549 M303.5 1559 V1549 M390.5 1559 V1549 M477.5 1559 V1549 M565.5 1559 V1549 M652.5 1559 V1549 M739.5 1559 V1549 M259.5 1559 V1554 M346.5 1559 V1554 M434.5 1559 V1554 M521.5 1559 V1554 M608.5 1559 V1554 M695.5 1559 V1554 M783.5 1559 V1554 M173 1532.5 H178 M173 1506.5 H183 M173 1480 H178 M173 1453.5 H183 M173 1427 H178 M173 1401 H183 M173 1374.5 H178 M173 1348 H183 M173 1322 H178 M173 1295.5 H183 M173 1269 H178 M173 1243 H183 M173 1216.5 H178 M173 1190 H183 M173 1164 H178 M173 1137.5 H183 M173 1111 H178 M173 1084.5 H183 M173 1058.5 H178" stroke="#000" stroke-width="2" fill="none"/>
<rect x="173" y="1032" width="654" height="527" fill="none" stroke="#000" stroke-width="2"/>
<path d="M201.04 1031.99 L201.15 1034.29 L201.26 1036.58 L201.38 1038.87 L201.51 1041.16 L201.64 1043.45 L201.78 1045.74 L201.92 1048.03 L202.07 1050.31 L202.22 1052.6 L202.38 1054.89 L202.55 1057.17 L202.72 1059.46 L202.89 1061.74 L203.07 1064.03 L203.25 1066.31 L203.44 1068.6 L203.63 1070.88 L203.82 1073.16 L204.02 1075.45 L204.23 1077.73 L204.43 1080.01 L204.64 1082.29 L204.86 1084.57 L205.07 1086.85 L205.29 1089.13 L205.52 1091.41 L205.74 1093.69 L205.97 1095.97 L206.2 1098.25 L206.44 1100.53 L206.67 1102.81 L206.91 1105.09 L207.15 1107.37 L207.4 1109.65 L207.64 1111.92 L207.89 1114.2 L208.13 1116.48 L208.38 1118.76 L208.64 1121.03 L208.89 1123.31 L209.14 1125.59 L209.4 1127.86 L209.65 1130.14 L209.91 1132.42 L210.16 1134.69 L210.42 1136.97 L210.68 1139.25 L210.93 1141.52 L211.19 1143.8 L211.45 1146.08 L211.71 1148.35 L211.96 1150.63 L212.22 1152.9 L212.48 1155.18 L212.73 1157.46 L212.99 1159.73 L213.24 1162.01 L213.49 1164.29 L213.74 1166.56 L213.99 1168.84 L214.24 1171.12 L214.49 1173.4 L214.73 1175.67 L214.97 1177.95 L215.22 1180.23 L215.45 1182.51 L215.69 1184.78 L215.93 1187.06 L216.16 1189.34 L216.39 1191.62 L216.61 1193.9 L216.84 1196.18 L217.06 1198.46 L217.28 1200.74 L217.5 1203.02 L217.72 1205.3 L217.94 1207.58 L218.16 1209.86 L218.38 1212.13 L218.6 1214.41 L218.83 1216.69 L219.05 1218.97 L219.27 1221.25 L219.5 1223.53 L219.73 1225.81 L219.96 1228.09 L220.19 1230.36 L220.43 1232.64 L220.67 1234.92 L220.92 1237.19 L221.17 1239.47 L221.42 1241.74 L221.68 1244.02 L221.94 1246.29 L222.21 1248.56 L222.49 1250.84 L222.77 1253.11 L223.05 1255.38 L223.34 1257.65 L223.63 1259.92 L223.93 1262.19 L224.23 1264.46 L224.53 1266.73 L224.84 1269 L225.15 1271.27 L225.47 1273.54 L225.79 1275.8 L226.11 1278.07 L226.44 1280.34 L226.77 1282.6 L227.11 1284.87 L227.44 1287.13 L227.78 1289.4 L228.13 1291.66 L228.47 1293.93 L228.82 1296.19 L229.18 1298.45 L229.53 1300.72 L229.89 1302.98 L230.25 1305.24 L230.61 1307.5 L230.98 1309.77 L231.34 1312.03 L231.71 1314.29 L232.08 1316.55 L232.46 1318.81 L232.83 1321.07 L233.21 1323.34 L233.58 1325.6 L233.96 1327.86 L234.34 1330.12 L234.73 1332.38 L235.11 1334.64 L235.49 1336.9 L235.88 1339.16 L236.26 1341.42 L236.65 1343.68 L237.04 1345.94 L237.43 1348.2 L237.81 1350.46 L238.2 1352.72 L238.59 1354.98 L238.98 1357.24 L239.37 1359.5 L239.76 1361.76 L240.15 1364.02 L240.54 1366.28 L240.93 1368.54 L241.32 1370.8 L241.71 1373.06 L242.1 1375.32 L242.49 1377.57 L242.88 1379.83 L243.28 1382.09 L243.67 1384.35 L244.07 1386.61 L244.47 1388.87 L244.87 1391.12 L245.28 1393.38 L245.68 1395.63 L246.09 1397.89 L246.51 1400.14 L246.93 1402.4 L247.35 1404.65 L247.77 1406.9 L248.2 1409.15 L248.63 1411.4 L249.07 1413.65 L249.51 1415.89 L249.96 1418.14 L250.41 1420.38 L250.87 1422.62 L251.34 1424.87 L251.81 1427.11 L252.29 1429.34 L252.77 1431.58 L253.26 1433.81 L253.76 1436.05 L254.26 1438.28 L254.77 1440.51 L255.29 1442.73 L255.82 1444.96 L256.35 1447.18 L256.89 1449.4 L257.45 1451.62 L258.01 1453.84 L258.57 1456.05 L259.15 1458.27 L259.74 1460.48 L260.34 1462.68 L260.95 1464.89 L261.56 1467.09 L262.19 1469.29 L262.83 1471.49 L263.48 1473.68 L264.14 1475.87 L264.81 1478.06 L265.49 1480.25 L266.19 1482.43 L266.9 1484.61 L267.61 1486.78 L268.35 1488.96 L269.09 1491.13 L269.85 1493.29 L270.62 1495.46 L271.4 1497.62 L272.2 1499.77 L273.01 1501.93 L273.83 1504.08 L274.67 1506.22 L275.52 1508.36 L276.39 1510.5 L277.28 1512.64 L278.17 1514.77 L279.09 1516.89 L280.03 1519.01 L280.99 1521.11 L281.97 1523.19 L282.99 1525.26 L284.04 1527.31 L285.13 1529.32 L286.25 1531.31 L287.42 1533.27 L288.64 1535.19 L289.91 1537.07 L291.23 1538.9 L292.6 1540.69 L294.04 1542.43 L295.54 1544.12 L297.1 1545.75 L298.74 1547.32 L300.44 1548.82 L302.22 1550.26 L304.08 1551.63 L306.02 1552.92 L308.01 1554.11 L310.06 1555.19 L312.16 1556.16 L314.3 1556.99 L316.47 1557.68 L318.67 1558.22 L320.89 1558.58 L323.11 1558.6 L325.35 1558.6 L327.59 1558.6 L329.84 1558.55 L332.08 1558.26 L334.32 1557.9 L336.56 1557.47 L338.79 1557 L341.02 1556.49 L343.23 1555.94 L345.45 1555.35 L347.65 1554.73 L349.86 1554.08 L352.05 1553.4 L354.25 1552.7 L356.44 1551.97 L358.63 1551.23 L360.81 1550.47 L362.99 1549.69 L365.17 1548.91 L367.35 1548.12 L369.53 1547.32 L371.71 1546.53 L373.88 1545.73 L376.06 1544.94 L378.24 1544.16 L380.41 1543.39 L382.59 1542.63 L384.78 1541.89 L386.96 1541.16 L389.14 1540.46 L391.33 1539.78 L393.53 1539.13 L395.72 1538.52 L397.92 1537.93 L400.13 1537.38 L402.34 1536.87 L404.55 1536.41 L406.77 1535.98 L409 1535.61 L411.23 1535.29 L413.47 1535.01 L415.72 1534.79 L417.97 1534.61 L420.22 1534.48 L422.48 1534.39 L424.74 1534.35 L427 1534.35 L429.27 1534.39 L431.54 1534.48 L433.81 1534.61 L436.08 1534.78 L438.36 1534.98 L440.63 1535.23 L442.9 1535.51 L445.17 1535.83 L447.44 1536.19 L449.71 1536.58 L451.98 1537.01 L454.24 1537.47 L456.5 1537.96 L458.76 1538.48 L461.01 1539.03 L463.26 1539.61 L465.5 1540.22 L467.74 1540.86 L469.97 1541.53 L472.19 1542.21 L474.42 1542.92 L476.63 1543.65 L478.84 1544.39 L481.05 1545.13 L483.26 1545.89 L485.46 1546.65 L487.66 1547.42 L489.86 1548.18 L492.06 1548.94 L494.25 1549.69 L496.45 1550.43 L498.64 1551.15 L500.83 1551.86 L503.03 1552.55 L505.22 1553.22 L507.42 1553.86 L509.61 1554.48 L511.81 1555.06 L514.01 1555.6 L516.22 1556.11 L518.43 1556.58 L520.64 1557 L522.85 1557.38 L525.07 1557.71 L527.29 1557.98 L529.52 1558.2 L531.76 1558.36 L534 1558.45 L536.24 1558.49 L538.5 1558.45 L540.76 1558.34 L543.02 1558.17 L545.28 1557.93 L547.54 1557.63 L549.79 1557.25 L552.04 1556.82 L554.28 1556.32 L556.51 1555.75 L558.73 1555.12 L560.93 1554.44 L563.11 1553.68 L565.27 1552.87 L567.4 1552 L569.52 1551.07 L571.6 1550.09 L573.65 1549.04 L575.68 1547.94 L577.66 1546.78 L579.61 1545.57 L581.52 1544.3 L583.39 1542.98 L585.23 1541.62 L587.03 1540.2 L588.79 1538.74 L590.52 1537.23 L592.21 1535.68 L593.87 1534.1 L595.5 1532.47 L597.09 1530.82 L598.65 1529.13 L600.19 1527.41 L601.69 1525.66 L603.16 1523.88 L604.61 1522.08 L606.02 1520.26 L607.42 1518.42 L608.78 1516.57 L610.12 1514.69 L611.44 1512.81 L612.73 1510.91 L614 1509 L615.25 1507.08 L616.47 1505.15 L617.68 1503.21 L618.86 1501.26 L620.03 1499.3 L621.18 1497.33 L622.31 1495.35 L623.43 1493.36 L624.53 1491.36 L625.61 1489.36 L626.68 1487.34 L627.74 1485.32 L628.78 1483.3 L629.81 1481.26 L630.84 1479.22 L631.85 1477.18 L632.85 1475.13 L633.84 1473.07 L634.83 1471.01 L635.81 1468.94 L636.78 1466.87 L637.75 1464.8 L638.71 1462.72 L639.67 1460.64 L640.62 1458.55 L641.56 1456.46 L642.5 1454.37 L643.44 1452.28 L644.37 1450.18 L645.29 1448.08 L646.2 1445.97 L647.11 1443.86 L648.01 1441.75 L648.9 1439.63 L649.79 1437.52 L650.67 1435.39 L651.54 1433.27 L652.4 1431.14 L653.26 1429.01 L654.1 1426.87 L654.94 1424.74 L655.77 1422.6 L656.59 1420.45 L657.41 1418.3 L658.21 1416.15 L659 1414 L659.79 1411.85 L660.56 1409.69 L661.33 1407.53 L662.08 1405.36 L662.83 1403.2 L663.57 1401.03 L664.3 1398.85 L665.02 1396.68 L665.74 1394.5 L666.44 1392.32 L667.14 1390.14 L667.84 1387.96 L668.52 1385.78 L669.2 1383.59 L669.88 1381.4 L670.55 1379.21 L671.21 1377.02 L671.87 1374.83 L672.53 1372.63 L673.18 1370.44 L673.82 1368.24 L674.47 1366.04 L675.11 1363.84 L675.74 1361.65 L676.38 1359.44 L677.01 1357.24 L677.64 1355.04 L678.27 1352.84 L678.9 1350.64 L679.52 1348.43 L680.15 1346.23 L680.77 1344.03 L681.4 1341.82 L682.03 1339.62 L682.65 1337.42 L683.28 1335.21 L683.91 1333.01 L684.54 1330.81 L685.17 1328.6 L685.8 1326.4 L686.44 1324.2 L687.07 1322 L687.71 1319.8 L688.35 1317.6 L688.99 1315.4 L689.63 1313.2 L690.27 1311 L690.91 1308.8 L691.55 1306.6 L692.19 1304.4 L692.83 1302.2 L693.47 1300 L694.11 1297.8 L694.74 1295.6 L695.38 1293.39 L696.01 1291.19 L696.64 1288.99 L697.26 1286.79 L697.89 1284.58 L698.51 1282.38 L699.12 1280.17 L699.74 1277.96 L700.35 1275.75 L700.95 1273.55 L701.55 1271.34 L702.15 1269.12 L702.74 1266.91 L703.33 1264.7 L703.91 1262.48 L704.49 1260.27 L705.07 1258.05 L705.64 1255.83 L706.21 1253.61 L706.78 1251.39 L707.34 1249.17 L707.9 1246.95 L708.45 1244.73 L709 1242.51 L709.55 1240.28 L710.1 1238.06 L710.64 1235.83 L711.18 1233.61 L711.72 1231.38 L712.25 1229.15 L712.78 1226.92 L713.31 1224.69 L713.84 1222.46 L714.36 1220.23 L714.88 1218 L715.4 1215.77 L715.92 1213.54 L716.44 1211.31 L716.95 1209.07 L717.46 1206.84 L717.97 1204.61 L718.48 1202.37 L718.99 1200.14 L719.5 1197.9 L720 1195.67 L720.5 1193.43 L721.01 1191.2 L721.51 1188.96 L722.01 1186.72 L722.51 1184.49 L723 1182.25 L723.5 1180.01 L724 1177.78 L724.5 1175.54 L724.99 1173.3 L725.49 1171.06 L725.98 1168.83 L726.48 1166.59 L726.97 1164.35 L727.47 1162.11 L727.96 1159.88 L728.46 1157.64 L728.96 1155.4 L729.45 1153.16 L729.95 1150.93 L730.45 1148.69 L730.94 1146.45 L731.44 1144.22 L731.94 1141.98 L732.44 1139.75 L732.94 1137.51 L733.45 1135.27 L733.95 1133.04 L734.45 1130.8 L734.96 1128.57 L735.46 1126.33 L735.97 1124.1 L736.47 1121.87 L736.98 1119.63 L737.48 1117.4 L737.99 1115.16 L738.49 1112.93 L738.99 1110.69 L739.49 1108.46 L739.99 1106.22 L740.49 1103.99 L740.98 1101.75 L741.48 1099.51 L741.97 1097.28 L742.45 1095.04 L742.94 1092.8 L743.42 1090.56 L743.9 1088.32 L744.38 1086.08 L744.85 1083.84 L745.32 1081.6 L745.79 1079.36 L746.25 1077.11 L746.71 1074.87 L747.16 1072.62 L747.61 1070.38 L748.05 1068.13 L748.49 1065.88 L748.92 1063.63 L749.35 1061.38 L749.77 1059.13 L750.19 1056.88 L750.59 1054.62 L751 1052.37 L751.4 1050.11 L751.79 1047.85 L752.17 1045.59 L752.54 1043.33 L752.91 1041.07 L753.28 1038.8 L753.63 1036.53 L753.98 1034.27 L754.31 1031.99" stroke="#000" stroke-width="2.8" fill="none" stroke-linejoin="round"/>
<g font-family='"Liberation Serif", serif' font-size="23.6" fill="#000" stroke="#fff" stroke-width="0.3"><text transform="translate(133.5 1567.9) scale(0.93 1)" text-anchor="middle">0</text><text transform="translate(141.6 1567.9) scale(1 1)" text-anchor="middle">.</text><text transform="translate(155.5 1567.9) scale(0.93 1)" text-anchor="middle">0</text><text transform="translate(133.5 1515.2) scale(0.93 1)" text-anchor="middle">0</text><text transform="translate(141.6 1515.2) scale(1 1)" text-anchor="middle">.</text><text transform="translate(155.28 1515.2) scale(0.98 1)" text-anchor="middle">5</text><text transform="translate(133.17 1462.5) scale(1 1)" text-anchor="middle">1</text><text transform="translate(141.6 1462.5) scale(1 1)" text-anchor="middle">.</text><text transform="translate(155.5 1462.5) scale(0.93 1)" text-anchor="middle">0</text><text transform="translate(133.17 1409.8) scale(1 1)" text-anchor="middle">1</text><text transform="translate(141.6 1409.8) scale(1 1)" text-anchor="middle">.</text><text transform="translate(155.28 1409.8) scale(0.98 1)" text-anchor="middle">5</text><text transform="translate(133.63 1357.1) scale(0.98 1)" text-anchor="middle">2</text><text transform="translate(141.6 1357.1) scale(1 1)" text-anchor="middle">.</text><text transform="translate(155.5 1357.1) scale(0.93 1)" text-anchor="middle">0</text><text transform="translate(133.63 1304.4) scale(0.98 1)" text-anchor="middle">2</text><text transform="translate(141.6 1304.4) scale(1 1)" text-anchor="middle">.</text><text transform="translate(155.28 1304.4) scale(0.98 1)" text-anchor="middle">5</text><text transform="translate(133.4 1251.7) scale(0.95 1)" text-anchor="middle">3</text><text transform="translate(141.6 1251.7) scale(1 1)" text-anchor="middle">.</text><text transform="translate(155.5 1251.7) scale(0.93 1)" text-anchor="middle">0</text><text transform="translate(133.4 1199) scale(0.95 1)" text-anchor="middle">3</text><text transform="translate(141.6 1199) scale(1 1)" text-anchor="middle">.</text><text transform="translate(155.28 1199) scale(0.98 1)" text-anchor="middle">5</text><text transform="translate(133.46 1146.3) scale(0.85 1)" text-anchor="middle">4</text><text transform="translate(141.6 1146.3) scale(1 1)" text-anchor="middle">.</text><text transform="translate(155.5 1146.3) scale(0.93 1)" text-anchor="middle">0</text><text transform="translate(133.46 1093.6) scale(0.85 1)" text-anchor="middle">4</text><text transform="translate(141.6 1093.6) scale(1 1)" text-anchor="middle">.</text><text transform="translate(155.28 1093.6) scale(0.98 1)" text-anchor="middle">5</text><text transform="translate(133.28 1040.9) scale(0.98 1)" text-anchor="middle">5</text><text transform="translate(141.6 1040.9) scale(1 1)" text-anchor="middle">.</text><text transform="translate(155.5 1040.9) scale(0.93 1)" text-anchor="middle">0</text><text transform="translate(205.09 1589) scale(0.85 1)" text-anchor="middle">4</text><text transform="translate(216.18 1589) scale(0.92 1)" text-anchor="middle">6</text><text transform="translate(227.53 1589) scale(0.93 1)" text-anchor="middle">0</text><text transform="translate(292.34 1589) scale(0.85 1)" text-anchor="middle">4</text><text transform="translate(303.57 1589) scale(0.93 1)" text-anchor="middle">8</text><text transform="translate(314.77 1589) scale(0.93 1)" text-anchor="middle">0</text><text transform="translate(379.41 1589) scale(0.98 1)" text-anchor="middle">5</text><text transform="translate(390.82 1589) scale(0.93 1)" text-anchor="middle">0</text><text transform="translate(402.02 1589) scale(0.93 1)" text-anchor="middle">0</text><text transform="translate(466.66 1589) scale(0.98 1)" text-anchor="middle">5</text><text transform="translate(478.21 1589) scale(0.98 1)" text-anchor="middle">2</text><text transform="translate(489.27 1589) scale(0.93 1)" text-anchor="middle">0</text><text transform="translate(553.91 1589) scale(0.98 1)" text-anchor="middle">5</text><text transform="translate(565.29 1589) scale(0.85 1)" text-anchor="middle">4</text><text transform="translate(576.52 1589) scale(0.93 1)" text-anchor="middle">0</text><text transform="translate(641.16 1589) scale(0.98 1)" text-anchor="middle">5</text><text transform="translate(652.43 1589) scale(0.92 1)" text-anchor="middle">6</text><text transform="translate(663.77 1589) scale(0.93 1)" text-anchor="middle">0</text><text transform="translate(728.41 1589) scale(0.98 1)" text-anchor="middle">5</text><text transform="translate(739.82 1589) scale(0.93 1)" text-anchor="middle">8</text><text transform="translate(751.02 1589) scale(0.93 1)" text-anchor="middle">0</text><text transform="translate(815.73 1589) scale(0.92 1)" text-anchor="middle">6</text><text transform="translate(827.07 1589) scale(0.93 1)" text-anchor="middle">0</text><text transform="translate(838.27 1589) scale(0.93 1)" text-anchor="middle">0</text></g>
<g font-family='"Liberation Serif", serif' font-size="28.5" fill="#000" stroke="#fff" stroke-width="0.45"><text transform="translate(403.76 1625.9) scale(0.47 1)" text-anchor="middle">W</text><text transform="translate(417.13 1625.9) scale(0.88 1)" text-anchor="middle">a</text><text transform="translate(431.05 1625.9) scale(0.81 1)" text-anchor="middle">v</text><text transform="translate(444.64 1625.9) scale(0.88 1)" text-anchor="middle">e</text><text transform="translate(458.35 1625.9) scale(0.88 1)" text-anchor="middle">l</text><text transform="translate(471.94 1625.9) scale(0.88 1)" text-anchor="middle">e</text><text transform="translate(485.55 1625.9) scale(0.87 1)" text-anchor="middle">n</text><text transform="translate(499 1625.9) scale(0.88 1)" text-anchor="middle">g</text><text transform="translate(512.9 1625.9) scale(0.88 1)" text-anchor="middle">t</text><text transform="translate(526.64 1625.9) scale(0.85 1)" text-anchor="middle">h</text><text transform="translate(553.42 1623.9) scale(0.88 1)" text-anchor="middle">[</text><text transform="translate(567.45 1625.9) scale(0.87 1)" text-anchor="middle">n</text><text transform="translate(581.14 1625.9) scale(0.76 1)" text-anchor="middle">m</text><text transform="translate(595.33 1623.9) scale(0.88 1)" text-anchor="middle">]</text></g>
<g transform="translate(117.6 1323) rotate(-90)" font-family='"Liberation Serif", serif' font-size="28.5" fill="#000" stroke="#fff" stroke-width="0.45"><text transform="translate(-0.26 0) scale(0.66 1)" text-anchor="middle">R</text><text transform="translate(26.82 -2) scale(0.88 1)" text-anchor="middle">[</text><text transform="translate(40.95 0) scale(0.57 1)" text-anchor="middle">%</text><text transform="translate(55.08 -2) scale(0.88 1)" text-anchor="middle">]</text></g>
<path d="M1134 1084.5 H1786 M1134 1137.5 H1786 M1134 1189.5 H1786 M1134 1242.5 H1786 M1134 1295.5 H1786 M1134 1348.5 H1786 M1134 1400.5 H1786 M1134 1453.5 H1786 M1134 1506.5 H1786 M1177.5 1033 V1558 M1222.5 1033 V1558 M1267.5 1033 V1558 M1448.5 1033 V1558 M1493.5 1033 V1558 M1538.5 1033 V1558 M1583.5 1033 V1558 M1674.5 1033 V1558 M1719.5 1033 V1558 M1764.5 1033 V1558" stroke="#707070" stroke-width="1" stroke-dasharray="3 3.4" fill="none"/>
<path d="M1177.5 1559 V1549 M1222.5 1559 V1549 M1267.5 1559 V1549 M1312.5 1559 V1549 M1358.5 1559 V1549 M1403.5 1559 V1549 M1448.5 1559 V1549 M1493.5 1559 V1549 M1538.5 1559 V1549 M1583.5 1559 V1549 M1628.5 1559 V1549 M1674.5 1559 V1549 M1719.5 1559 V1549 M1764.5 1559 V1549 M1154.5 1559 V1554 M1200.5 1559 V1554 M1245.5 1559 V1554 M1290.5 1559 V1554 M1335.5 1559 V1554 M1380.5 1559 V1554 M1425.5 1559 V1554 M1470.5 1559 V1554 M1516.5 1559 V1554 M1561.5 1559 V1554 M1606.5 1559 V1554 M1651.5 1559 V1554 M1696.5 1559 V1554 M1741.5 1559 V1554 M1133 1532.5 H1138 M1133 1506.5 H1143 M1133 1480 H1138 M1133 1453.5 H1143 M1133 1427 H1138 M1133 1401 H1143 M1133 1374.5 H1138 M1133 1348 H1143 M1133 1322 H1138 M1133 1295.5 H1143 M1133 1269 H1138 M1133 1243 H1143 M1133 1216.5 H1138 M1133 1190 H1143 M1133 1164 H1138 M1133 1137.5 H1143 M1133 1111 H1138 M1133 1084.5 H1143 M1133 1058.5 H1138" stroke="#000" stroke-width="2" fill="none"/>
<rect x="1133" y="1032" width="654" height="527" fill="none" stroke="#000" stroke-width="2"/>
<path d="M1133.66 1450.9 L1134.94 1451.74 L1136.21 1452.58 L1137.47 1453.43 L1138.72 1454.29 L1139.98 1455.16 L1141.22 1456.03 L1142.46 1456.91 L1143.7 1457.79 L1144.93 1458.68 L1146.17 1459.57 L1147.39 1460.47 L1148.62 1461.37 L1149.84 1462.27 L1151.07 1463.17 L1152.29 1464.07 L1153.51 1464.98 L1154.73 1465.88 L1155.96 1466.78 L1157.18 1467.68 L1158.41 1468.58 L1159.63 1469.48 L1160.86 1470.37 L1162.1 1471.26 L1163.33 1472.15 L1164.57 1473.03 L1165.82 1473.9 L1167.07 1474.77 L1168.32 1475.63 L1169.58 1476.49 L1170.85 1477.34 L1172.12 1478.18 L1173.39 1479.02 L1174.67 1479.85 L1175.95 1480.67 L1177.23 1481.49 L1178.52 1482.3 L1179.81 1483.1 L1181.11 1483.9 L1182.41 1484.7 L1183.71 1485.49 L1185.02 1486.27 L1186.33 1487.04 L1187.64 1487.82 L1188.95 1488.58 L1190.27 1489.34 L1191.59 1490.09 L1192.9 1490.84 L1194.23 1491.59 L1195.55 1492.32 L1196.88 1493.06 L1198.2 1493.79 L1199.53 1494.51 L1200.86 1495.23 L1202.19 1495.95 L1203.53 1496.66 L1204.86 1497.37 L1206.2 1498.08 L1207.54 1498.79 L1208.88 1499.49 L1210.22 1500.19 L1211.56 1500.89 L1212.9 1501.59 L1214.25 1502.28 L1215.6 1502.98 L1216.94 1503.67 L1218.29 1504.37 L1219.64 1505.06 L1220.99 1505.76 L1222.35 1506.45 L1223.7 1507.14 L1225.05 1507.83 L1226.41 1508.52 L1227.77 1509.21 L1229.13 1509.89 L1230.49 1510.57 L1231.86 1511.25 L1233.22 1511.92 L1234.59 1512.59 L1235.96 1513.26 L1237.33 1513.92 L1238.71 1514.58 L1240.09 1515.23 L1241.47 1515.87 L1242.85 1516.51 L1244.24 1517.14 L1245.62 1517.77 L1247.02 1518.38 L1248.41 1518.99 L1249.81 1519.6 L1251.21 1520.19 L1252.61 1520.77 L1254.02 1521.35 L1255.43 1521.92 L1256.84 1522.47 L1258.26 1523.02 L1259.68 1523.55 L1261.11 1524.07 L1262.54 1524.59 L1263.98 1525.08 L1265.42 1525.57 L1266.86 1526.04 L1268.31 1526.5 L1269.76 1526.95 L1271.22 1527.38 L1272.68 1527.81 L1274.14 1528.24 L1275.6 1528.66 L1277.06 1529.09 L1278.51 1529.52 L1279.97 1529.96 L1281.42 1530.41 L1282.87 1530.87 L1284.31 1531.34 L1285.74 1531.84 L1287.17 1532.36 L1288.59 1532.89 L1290.01 1533.42 L1291.43 1533.96 L1292.85 1534.48 L1294.28 1535 L1295.71 1535.48 L1297.15 1535.94 L1298.6 1536.35 L1300.07 1536.73 L1301.54 1537.09 L1303.01 1537.44 L1304.49 1537.77 L1305.97 1538.11 L1307.45 1538.44 L1308.93 1538.78 L1310.4 1539.11 L1311.88 1539.45 L1313.36 1539.8 L1314.84 1540.15 L1316.31 1540.52 L1317.78 1540.89 L1319.26 1541.27 L1320.73 1541.66 L1322.2 1542.06 L1323.67 1542.46 L1325.14 1542.86 L1326.61 1543.26 L1328.08 1543.65 L1329.55 1544.04 L1331.02 1544.41 L1332.5 1544.77 L1333.98 1545.11 L1335.46 1545.43 L1336.95 1545.73 L1338.44 1546.01 L1339.94 1546.27 L1341.43 1546.5 L1342.94 1546.72 L1344.44 1546.93 L1345.95 1547.13 L1347.45 1547.32 L1348.96 1547.5 L1350.47 1547.67 L1351.99 1547.85 L1353.5 1548.03 L1355.01 1548.2 L1356.52 1548.38 L1358.04 1548.56 L1359.55 1548.74 L1361.06 1548.92 L1362.57 1549.11 L1364.08 1549.3 L1365.59 1549.5 L1367.1 1549.7 L1368.61 1549.91 L1370.11 1550.13 L1371.61 1550.36 L1373.11 1550.59 L1374.61 1550.83 L1376.11 1551.08 L1377.61 1551.32 L1379.1 1551.57 L1380.6 1551.81 L1382.09 1552.06 L1383.59 1552.3 L1385.09 1552.53 L1386.59 1552.75 L1388.09 1552.97 L1389.59 1553.18 L1391.1 1553.38 L1392.6 1553.57 L1394.11 1553.76 L1395.61 1553.93 L1397.12 1554.11 L1398.63 1554.27 L1400.14 1554.43 L1401.66 1554.57 L1403.17 1554.72 L1404.68 1554.85 L1406.2 1554.98 L1407.71 1555.1 L1409.23 1555.22 L1410.75 1555.33 L1412.26 1555.43 L1413.78 1555.53 L1415.3 1555.62 L1416.82 1555.71 L1418.34 1555.79 L1419.86 1555.86 L1421.38 1555.93 L1422.9 1555.99 L1424.42 1556.05 L1425.94 1556.1 L1427.46 1556.14 L1428.98 1556.19 L1430.51 1556.22 L1432.03 1556.25 L1433.55 1556.28 L1435.07 1556.3 L1436.59 1556.32 L1438.11 1556.33 L1439.63 1556.34 L1441.16 1556.34 L1442.68 1556.34 L1444.2 1556.34 L1445.72 1556.33 L1447.24 1556.32 L1448.76 1556.3 L1450.28 1556.28 L1451.8 1556.25 L1453.32 1556.22 L1454.84 1556.19 L1456.36 1556.15 L1457.88 1556.11 L1459.4 1556.07 L1460.92 1556.02 L1462.44 1555.97 L1463.96 1555.91 L1465.47 1555.85 L1466.99 1555.79 L1468.51 1555.73 L1470.03 1555.66 L1471.55 1555.59 L1473.07 1555.51 L1474.59 1555.43 L1476.1 1555.35 L1477.62 1555.27 L1479.14 1555.18 L1480.66 1555.09 L1482.17 1555 L1483.69 1554.91 L1485.21 1554.81 L1486.72 1554.71 L1488.24 1554.61 L1489.76 1554.5 L1491.27 1554.4 L1492.79 1554.29 L1494.31 1554.18 L1495.82 1554.06 L1497.34 1553.95 L1498.85 1553.83 L1500.37 1553.71 L1501.88 1553.59 L1503.4 1553.46 L1504.91 1553.33 L1506.43 1553.21 L1507.94 1553.08 L1509.46 1552.94 L1510.97 1552.81 L1512.48 1552.67 L1514 1552.53 L1515.51 1552.39 L1517.03 1552.25 L1518.54 1552.1 L1520.05 1551.96 L1521.57 1551.81 L1523.08 1551.66 L1524.59 1551.51 L1526.1 1551.35 L1527.62 1551.2 L1529.13 1551.04 L1530.64 1550.88 L1532.15 1550.72 L1533.67 1550.56 L1535.18 1550.39 L1536.69 1550.23 L1538.2 1550.06 L1539.71 1549.89 L1541.22 1549.72 L1542.74 1549.55 L1544.25 1549.37 L1545.76 1549.2 L1547.27 1549.02 L1548.78 1548.84 L1550.29 1548.67 L1551.8 1548.48 L1553.31 1548.3 L1554.82 1548.12 L1556.33 1547.93 L1557.84 1547.75 L1559.35 1547.56 L1560.86 1547.37 L1562.37 1547.18 L1563.88 1546.99 L1565.39 1546.8 L1566.9 1546.61 L1568.41 1546.41 L1569.92 1546.21 L1571.43 1546.02 L1572.94 1545.82 L1574.45 1545.62 L1575.96 1545.42 L1577.47 1545.22 L1578.98 1545.02 L1580.49 1544.82 L1582 1544.61 L1583.51 1544.41 L1585.02 1544.2 L1586.52 1543.99 L1588.03 1543.78 L1589.54 1543.57 L1591.05 1543.36 L1592.56 1543.14 L1594.06 1542.92 L1595.57 1542.7 L1597.07 1542.48 L1598.58 1542.25 L1600.08 1542.02 L1601.59 1541.79 L1603.09 1541.55 L1604.6 1541.31 L1606.1 1541.06 L1607.6 1540.81 L1609.1 1540.56 L1610.6 1540.3 L1612.1 1540.04 L1613.59 1539.77 L1615.09 1539.49 L1616.59 1539.21 L1618.08 1538.93 L1619.57 1538.64 L1621.07 1538.34 L1622.56 1538.04 L1624.05 1537.74 L1625.54 1537.43 L1627.03 1537.12 L1628.51 1536.81 L1630 1536.5 L1631.49 1536.18 L1632.98 1535.86 L1634.46 1535.54 L1635.95 1535.21 L1637.44 1534.89 L1638.92 1534.56 L1640.41 1534.24 L1641.89 1533.91 L1643.38 1533.59 L1644.86 1533.26 L1646.35 1532.94 L1647.83 1532.61 L1649.32 1532.29 L1650.81 1531.97 L1652.29 1531.65 L1653.78 1531.34 L1655.27 1531.02 L1656.75 1530.71 L1658.24 1530.4 L1659.73 1530.1 L1661.22 1529.79 L1662.71 1529.49 L1664.2 1529.19 L1665.69 1528.9 L1667.18 1528.6 L1668.67 1528.31 L1670.16 1528.03 L1671.66 1527.74 L1673.15 1527.46 L1674.65 1527.19 L1676.14 1526.91 L1677.64 1526.64 L1679.14 1526.37 L1680.64 1526.11 L1682.14 1525.85 L1683.64 1525.59 L1685.14 1525.34 L1686.64 1525.09 L1688.15 1524.84 L1689.65 1524.6 L1691.16 1524.36 L1692.66 1524.12 L1694.17 1523.87 L1695.67 1523.63 L1697.18 1523.38 L1698.68 1523.13 L1700.18 1522.88 L1701.68 1522.62 L1703.18 1522.35 L1704.68 1522.08 L1706.18 1521.8 L1707.67 1521.51 L1709.16 1521.21 L1710.65 1520.89 L1712.14 1520.57 L1713.62 1520.24 L1715.1 1519.89 L1716.58 1519.54 L1718.05 1519.18 L1719.53 1518.81 L1721 1518.44 L1722.47 1518.06 L1723.94 1517.67 L1725.41 1517.28 L1726.88 1516.89 L1728.34 1516.49 L1729.81 1516.09 L1731.28 1515.69 L1732.74 1515.29 L1734.21 1514.88 L1735.67 1514.48 L1737.14 1514.08 L1738.61 1513.68 L1740.08 1513.29 L1741.54 1512.9 L1743.01 1512.51 L1744.49 1512.13 L1745.96 1511.75 L1747.43 1511.38 L1748.91 1511.02 L1750.39 1510.67 L1751.87 1510.32 L1753.35 1509.99 L1754.84 1509.66 L1756.33 1509.35 L1757.82 1509.04 L1759.32 1508.75 L1760.82 1508.48 L1762.32 1508.21 L1763.82 1507.95 L1765.33 1507.69 L1766.83 1507.42 L1768.32 1507.15 L1769.82 1506.87 L1771.31 1506.57 L1772.79 1506.26 L1774.26 1505.91 L1775.73 1505.54 L1777.18 1505.14 L1778.62 1504.7 L1780.05 1504.22 L1781.46 1503.7 L1782.86 1503.12 L1784.24 1502.49 L1785.6 1501.81 L1786.94 1501.06" stroke="#000" stroke-width="2.8" fill="none" stroke-linejoin="round"/>
<g font-family='"Liberation Serif", serif' font-size="23.6" fill="#000" stroke="#fff" stroke-width="0.3"><text transform="translate(1093.5 1567.9) scale(0.93 1)" text-anchor="middle">0</text><text transform="translate(1101.6 1567.9) scale(1 1)" text-anchor="middle">.</text><text transform="translate(1115.5 1567.9) scale(0.93 1)" text-anchor="middle">0</text><text transform="translate(1093.5 1515.2) scale(0.93 1)" text-anchor="middle">0</text><text transform="translate(1101.6 1515.2) scale(1 1)" text-anchor="middle">.</text><text transform="translate(1115.28 1515.2) scale(0.98 1)" text-anchor="middle">5</text><text transform="translate(1093.17 1462.5) scale(1 1)" text-anchor="middle">1</text><text transform="translate(1101.6 1462.5) scale(1 1)" text-anchor="middle">.</text><text transform="translate(1115.5 1462.5) scale(0.93 1)" text-anchor="middle">0</text><text transform="translate(1093.17 1409.8) scale(1 1)" text-anchor="middle">1</text><text transform="translate(1101.6 1409.8) scale(1 1)" text-anchor="middle">.</text><text transform="translate(1115.28 1409.8) scale(0.98 1)" text-anchor="middle">5</text><text transform="translate(1093.63 1357.1) scale(0.98 1)" text-anchor="middle">2</text><text transform="translate(1101.6 1357.1) scale(1 1)" text-anchor="middle">.</text><text transform="translate(1115.5 1357.1) scale(0.93 1)" text-anchor="middle">0</text><text transform="translate(1093.63 1304.4) scale(0.98 1)" text-anchor="middle">2</text><text transform="translate(1101.6 1304.4) scale(1 1)" text-anchor="middle">.</text><text transform="translate(1115.28 1304.4) scale(0.98 1)" text-anchor="middle">5</text><text transform="translate(1093.4 1251.7) scale(0.95 1)" text-anchor="middle">3</text><text transform="translate(1101.6 1251.7) scale(1 1)" text-anchor="middle">.</text><text transform="translate(1115.5 1251.7) scale(0.93 1)" text-anchor="middle">0</text><text transform="translate(1093.4 1199) scale(0.95 1)" text-anchor="middle">3</text><text transform="translate(1101.6 1199) scale(1 1)" text-anchor="middle">.</text><text transform="translate(1115.28 1199) scale(0.98 1)" text-anchor="middle">5</text><text transform="translate(1093.46 1146.3) scale(0.85 1)" text-anchor="middle">4</text><text transform="translate(1101.6 1146.3) scale(1 1)" text-anchor="middle">.</text><text transform="translate(1115.5 1146.3) scale(0.93 1)" text-anchor="middle">0</text><text transform="translate(1093.46 1093.6) scale(0.85 1)" text-anchor="middle">4</text><text transform="translate(1101.6 1093.6) scale(1 1)" text-anchor="middle">.</text><text transform="translate(1115.28 1093.6) scale(0.98 1)" text-anchor="middle">5</text><text transform="translate(1093.28 1040.9) scale(0.98 1)" text-anchor="middle">5</text><text transform="translate(1101.6 1040.9) scale(1 1)" text-anchor="middle">.</text><text transform="translate(1115.5 1040.9) scale(0.93 1)" text-anchor="middle">0</text><text transform="translate(1121.55 1589) scale(0.92 1)" text-anchor="middle">9</text><text transform="translate(1132.65 1589) scale(0.93 1)" text-anchor="middle">8</text><text transform="translate(1143.85 1589) scale(0.93 1)" text-anchor="middle">0</text><text transform="translate(1166.69 1589) scale(0.92 1)" text-anchor="middle">9</text><text transform="translate(1177.89 1589) scale(0.92 1)" text-anchor="middle">9</text><text transform="translate(1189 1589) scale(0.93 1)" text-anchor="middle">0</text><text transform="translate(1205.81 1589) scale(1 1)" text-anchor="middle">1</text><text transform="translate(1217.34 1589) scale(0.93 1)" text-anchor="middle">0</text><text transform="translate(1228.54 1589) scale(0.93 1)" text-anchor="middle">0</text><text transform="translate(1239.74 1589) scale(0.93 1)" text-anchor="middle">0</text><text transform="translate(1250.96 1589) scale(1 1)" text-anchor="middle">1</text><text transform="translate(1262.49 1589) scale(0.93 1)" text-anchor="middle">0</text><text transform="translate(1273.36 1589) scale(1 1)" text-anchor="middle">1</text><text transform="translate(1284.89 1589) scale(0.93 1)" text-anchor="middle">0</text><text transform="translate(1296.11 1589) scale(1 1)" text-anchor="middle">1</text><text transform="translate(1307.63 1589) scale(0.93 1)" text-anchor="middle">0</text><text transform="translate(1318.96 1589) scale(0.98 1)" text-anchor="middle">2</text><text transform="translate(1330.03 1589) scale(0.93 1)" text-anchor="middle">0</text><text transform="translate(1341.25 1589) scale(1 1)" text-anchor="middle">1</text><text transform="translate(1352.78 1589) scale(0.93 1)" text-anchor="middle">0</text><text transform="translate(1363.88 1589) scale(0.95 1)" text-anchor="middle">3</text><text transform="translate(1375.18 1589) scale(0.93 1)" text-anchor="middle">0</text><text transform="translate(1386.4 1589) scale(1 1)" text-anchor="middle">1</text><text transform="translate(1397.93 1589) scale(0.93 1)" text-anchor="middle">0</text><text transform="translate(1409.09 1589) scale(0.85 1)" text-anchor="middle">4</text><text transform="translate(1420.33 1589) scale(0.93 1)" text-anchor="middle">0</text><text transform="translate(1431.54 1589) scale(1 1)" text-anchor="middle">1</text><text transform="translate(1443.07 1589) scale(0.93 1)" text-anchor="middle">0</text><text transform="translate(1454.05 1589) scale(0.98 1)" text-anchor="middle">5</text><text transform="translate(1465.47 1589) scale(0.93 1)" text-anchor="middle">0</text><text transform="translate(1476.69 1589) scale(1 1)" text-anchor="middle">1</text><text transform="translate(1488.22 1589) scale(0.93 1)" text-anchor="middle">0</text><text transform="translate(1499.27 1589) scale(0.92 1)" text-anchor="middle">6</text><text transform="translate(1510.62 1589) scale(0.93 1)" text-anchor="middle">0</text><text transform="translate(1521.84 1589) scale(1 1)" text-anchor="middle">1</text><text transform="translate(1533.36 1589) scale(0.93 1)" text-anchor="middle">0</text><text transform="translate(1544.14 1589) scale(0.97 1)" text-anchor="middle">7</text><text transform="translate(1555.76 1589) scale(0.93 1)" text-anchor="middle">0</text><text transform="translate(1566.98 1589) scale(1 1)" text-anchor="middle">1</text><text transform="translate(1578.51 1589) scale(0.93 1)" text-anchor="middle">0</text><text transform="translate(1589.71 1589) scale(0.93 1)" text-anchor="middle">8</text><text transform="translate(1600.91 1589) scale(0.93 1)" text-anchor="middle">0</text><text transform="translate(1612.13 1589) scale(1 1)" text-anchor="middle">1</text><text transform="translate(1623.66 1589) scale(0.93 1)" text-anchor="middle">0</text><text transform="translate(1634.95 1589) scale(0.92 1)" text-anchor="middle">9</text><text transform="translate(1646.06 1589) scale(0.93 1)" text-anchor="middle">0</text><text transform="translate(1657.27 1589) scale(1 1)" text-anchor="middle">1</text><text transform="translate(1668.47 1589) scale(1 1)" text-anchor="middle">1</text><text transform="translate(1680 1589) scale(0.93 1)" text-anchor="middle">0</text><text transform="translate(1691.2 1589) scale(0.93 1)" text-anchor="middle">0</text><text transform="translate(1702.42 1589) scale(1 1)" text-anchor="middle">1</text><text transform="translate(1713.62 1589) scale(1 1)" text-anchor="middle">1</text><text transform="translate(1724.82 1589) scale(1 1)" text-anchor="middle">1</text><text transform="translate(1736.35 1589) scale(0.93 1)" text-anchor="middle">0</text><text transform="translate(1747.57 1589) scale(1 1)" text-anchor="middle">1</text><text transform="translate(1758.77 1589) scale(1 1)" text-anchor="middle">1</text><text transform="translate(1770.42 1589) scale(0.98 1)" text-anchor="middle">2</text><text transform="translate(1781.49 1589) scale(0.93 1)" text-anchor="middle">0</text></g>
<g font-family='"Liberation Serif", serif' font-size="28.5" fill="#000" stroke="#fff" stroke-width="0.45"><text transform="translate(1364.06 1625.9) scale(0.47 1)" text-anchor="middle">W</text><text transform="translate(1377.43 1625.9) scale(0.88 1)" text-anchor="middle">a</text><text transform="translate(1391.35 1625.9) scale(0.81 1)" text-anchor="middle">v</text><text transform="translate(1404.94 1625.9) scale(0.88 1)" text-anchor="middle">e</text><text transform="translate(1418.65 1625.9) scale(0.88 1)" text-anchor="middle">l</text><text transform="translate(1432.24 1625.9) scale(0.88 1)" text-anchor="middle">e</text><text transform="translate(1445.85 1625.9) scale(0.87 1)" text-anchor="middle">n</text><text transform="translate(1459.3 1625.9) scale(0.88 1)" text-anchor="middle">g</text><text transform="translate(1473.2 1625.9) scale(0.88 1)" text-anchor="middle">t</text><text transform="translate(1486.94 1625.9) scale(0.85 1)" text-anchor="middle">h</text><text transform="translate(1513.72 1623.9) scale(0.88 1)" text-anchor="middle">[</text><text transform="translate(1527.75 1625.9) scale(0.87 1)" text-anchor="middle">n</text><text transform="translate(1541.44 1625.9) scale(0.76 1)" text-anchor="middle">m</text><text transform="translate(1555.63 1623.9) scale(0.88 1)" text-anchor="middle">]</text></g>
<g transform="translate(1077.6 1323) rotate(-90)" font-family='"Liberation Serif", serif' font-size="28.5" fill="#000" stroke="#fff" stroke-width="0.45"><text transform="translate(-0.26 0) scale(0.66 1)" text-anchor="middle">R</text><text transform="translate(26.82 -2) scale(0.88 1)" text-anchor="middle">[</text><text transform="translate(40.95 0) scale(0.57 1)" text-anchor="middle">%</text><text transform="translate(55.08 -2) scale(0.88 1)" text-anchor="middle">]</text></g>
<g font-family='"Liberation Sans", sans-serif' font-size="32.5" fill="#000" stroke="#fff" stroke-width="0.7"><text transform="translate(96.77 160.9) scale(0.8 1)">R</text><text transform="translate(116.84 160.9) scale(0.84 1)">e</text><text transform="translate(134.88 160.9) scale(0.88 1)">a</text><text transform="translate(154.59 160.9) scale(1 1)">r</text><text transform="translate(182.72 160.9) scale(0.8 1)">S</text><text transform="translate(201.27 160.9) scale(0.98 1)">i</text><text transform="translate(210.23 160.9) scale(1 1)">d</text><text transform="translate(230.63 160.9) scale(0.92 1)">e</text><text transform="translate(257.49 160.9) scale(0.8 1)">(</text><text transform="translate(268.82 160.9) scale(0.8 1)">S</text><text transform="translate(286.48 160.9) scale(0.99 1)">2</text><text transform="translate(306.45 160.9) scale(0.8 1)">)</text></g>
<g font-family='"Liberation Sans", sans-serif' font-size="32.5" fill="#000" stroke="#fff" stroke-width="0.7"><text transform="translate(94.07 989.9) scale(0.8 1)">R</text><text transform="translate(114.14 989.9) scale(0.84 1)">e</text><text transform="translate(132.18 989.9) scale(0.88 1)">a</text><text transform="translate(151.89 989.9) scale(1 1)">r</text><text transform="translate(180.02 989.9) scale(0.8 1)">S</text><text transform="translate(198.57 989.9) scale(0.98 1)">i</text><text transform="translate(207.53 989.9) scale(1 1)">d</text><text transform="translate(227.93 989.9) scale(0.92 1)">e</text><text transform="translate(254.79 989.9) scale(0.8 1)">(</text><text transform="translate(266.12 989.9) scale(0.8 1)">S</text><text transform="translate(285.72 989.9) scale(0.8 1)">1</text><text transform="translate(303.75 989.9) scale(0.8 1)">)</text></g>
<g font-family='"Liberation Sans", sans-serif' font-size="32.5" fill="#000" stroke="#fff" stroke-width="0.7"><text transform="translate(336.94 889.7) scale(0.9 1)">A</text><text transform="translate(357.5 889.7) scale(0.82 1)">R</text><text transform="translate(377.89 889.7) scale(0.8 1)">(</text><text transform="translate(388.18 889.7) scale(0.96 1)">0</text><text transform="translate(405.1 889.7) scale(1.09 1)">°</text><text transform="translate(416.6 889.7) scale(1.2 1)">,</text><text transform="translate(429.37 889.7) scale(0.87 1)">5</text><text transform="translate(447.82 889.7) scale(0.8 1)">1</text><text transform="translate(466.47 889.7) scale(0.87 1)">5</text><text transform="translate(483.69 889.7) scale(1.18 1)">-</text><text transform="translate(499.13 889.7) scale(0.9 1)">5</text><text transform="translate(517.31 889.7) scale(0.96 1)">3</text><text transform="translate(535.17 889.7) scale(1 1)">2</text><text transform="translate(554.52 889.7) scale(0.96 1)">n</text><text transform="translate(574.7 889.7) scale(1.02 1)">m</text><text transform="translate(604.95 889.7) scale(0.8 1)">)</text><text transform="translate(613.4 889.7) scale(1 1)">&lt;</text><text transform="translate(633.02 889.7) scale(0.93 1)">0</text><text transform="translate(649.94 889.7) scale(1.2 1)">.</text><text transform="translate(661.29 889.7) scale(0.93 1)">5</text><text transform="translate(680.35 889.7) scale(0.82 1)">%</text></g>
<g font-family='"Liberation Sans", sans-serif' font-size="32.5" fill="#000" stroke="#fff" stroke-width="0.7"><text transform="translate(336.94 938.7) scale(0.87 1)">A</text><text transform="translate(357.57 938.7) scale(0.8 1)">R</text><text transform="translate(377.89 938.7) scale(0.8 1)">(</text><text transform="translate(388.18 938.7) scale(0.96 1)">0</text><text transform="translate(405.1 938.7) scale(1.09 1)">°</text><text transform="translate(416.6 938.7) scale(1.2 1)">,</text><text transform="translate(428.52 938.7) scale(0.8 1)">1</text><text transform="translate(446.54 938.7) scale(0.99 1)">0</text><text transform="translate(465.48 938.7) scale(0.9 1)">3</text><text transform="translate(483.68 938.7) scale(0.96 1)">0</text><text transform="translate(501.97 938.7) scale(1.2 1)">-</text><text transform="translate(517.82 938.7) scale(0.8 1)">1</text><text transform="translate(535.45 938.7) scale(0.98 1)">0</text><text transform="translate(553.93 938.7) scale(0.95 1)">6</text><text transform="translate(572.58 938.7) scale(0.96 1)">4</text><text transform="translate(591.52 938.7) scale(0.96 1)">n</text><text transform="translate(611.7 938.7) scale(1.02 1)">m</text><text transform="translate(641.95 938.7) scale(0.8 1)">)</text></g>
<g font-family='"Liberation Sans", sans-serif' font-size="32.5" fill="#000" stroke="#fff" stroke-width="0.7"><text transform="translate(1288.44 889.7) scale(0.9 1)">A</text><text transform="translate(1309 889.7) scale(0.82 1)">R</text><text transform="translate(1329.39 889.7) scale(0.8 1)">(</text><text transform="translate(1339.68 889.7) scale(0.96 1)">0</text><text transform="translate(1356.6 889.7) scale(1.09 1)">°</text><text transform="translate(1368.1 889.7) scale(1.2 1)">,</text><text transform="translate(1380.87 889.7) scale(0.87 1)">5</text><text transform="translate(1399.32 889.7) scale(0.8 1)">1</text><text transform="translate(1417.97 889.7) scale(0.87 1)">5</text><text transform="translate(1435.19 889.7) scale(1.18 1)">-</text><text transform="translate(1450.63 889.7) scale(0.9 1)">5</text><text transform="translate(1468.81 889.7) scale(0.96 1)">3</text><text transform="translate(1486.67 889.7) scale(1 1)">2</text><text transform="translate(1506.02 889.7) scale(0.96 1)">n</text><text transform="translate(1526.2 889.7) scale(1.02 1)">m</text><text transform="translate(1556.45 889.7) scale(0.8 1)">)</text><text transform="translate(1564.9 889.7) scale(1 1)">&lt;</text><text transform="translate(1584.52 889.7) scale(0.93 1)">0</text><text transform="translate(1601.44 889.7) scale(1.2 1)">.</text><text transform="translate(1612.79 889.7) scale(0.93 1)">5</text><text transform="translate(1631.85 889.7) scale(0.82 1)">%</text></g>
<g font-family='"Liberation Sans", sans-serif' font-size="32.5" fill="#000" stroke="#fff" stroke-width="0.7"><text transform="translate(1288.44 938.7) scale(0.87 1)">A</text><text transform="translate(1309.07 938.7) scale(0.8 1)">R</text><text transform="translate(1329.39 938.7) scale(0.8 1)">(</text><text transform="translate(1339.68 938.7) scale(0.96 1)">0</text><text transform="translate(1356.6 938.7) scale(1.09 1)">°</text><text transform="translate(1368.1 938.7) scale(1.2 1)">,</text><text transform="translate(1380.02 938.7) scale(0.8 1)">1</text><text transform="translate(1398.04 938.7) scale(0.99 1)">0</text><text transform="translate(1416.98 938.7) scale(0.9 1)">3</text><text transform="translate(1435.18 938.7) scale(0.96 1)">0</text><text transform="translate(1453.47 938.7) scale(1.2 1)">-</text><text transform="translate(1469.32 938.7) scale(0.8 1)">1</text><text transform="translate(1486.95 938.7) scale(0.98 1)">0</text><text transform="translate(1505.43 938.7) scale(0.95 1)">6</text><text transform="translate(1524.08 938.7) scale(0.96 1)">4</text><text transform="translate(1543.02 938.7) scale(0.96 1)">n</text><text transform="translate(1563.2 938.7) scale(1.02 1)">m</text><text transform="translate(1593.45 938.7) scale(0.8 1)">)</text></g>
<g font-family='"Liberation Sans", sans-serif' font-size="32.5" fill="#000" stroke="#fff" stroke-width="0.7"><text transform="translate(339.64 1674) scale(0.9 1)">A</text><text transform="translate(360.2 1674) scale(0.82 1)">R</text><text transform="translate(380.59 1674) scale(0.8 1)">(</text><text transform="translate(390.88 1674) scale(0.96 1)">0</text><text transform="translate(407.8 1674) scale(1.09 1)">°</text><text transform="translate(419.3 1674) scale(1.2 1)">,</text><text transform="translate(432.07 1674) scale(0.87 1)">5</text><text transform="translate(450.52 1674) scale(0.8 1)">1</text><text transform="translate(469.17 1674) scale(0.87 1)">5</text><text transform="translate(486.39 1674) scale(1.18 1)">-</text><text transform="translate(501.83 1674) scale(0.9 1)">5</text><text transform="translate(520.01 1674) scale(0.96 1)">3</text><text transform="translate(537.87 1674) scale(1 1)">2</text><text transform="translate(557.22 1674) scale(0.96 1)">n</text><text transform="translate(577.4 1674) scale(1.02 1)">m</text><text transform="translate(607.65 1674) scale(0.8 1)">)</text><text transform="translate(616.1 1674) scale(1 1)">&lt;</text><text transform="translate(635.72 1674) scale(0.93 1)">0</text><text transform="translate(652.64 1674) scale(1.2 1)">.</text><text transform="translate(663.99 1674) scale(0.93 1)">5</text><text transform="translate(683.05 1674) scale(0.82 1)">%</text></g>
<g font-family='"Liberation Sans", sans-serif' font-size="32.5" fill="#000" stroke="#fff" stroke-width="0.7"><text transform="translate(339.64 1722.6) scale(0.87 1)">A</text><text transform="translate(360.27 1722.6) scale(0.8 1)">R</text><text transform="translate(380.59 1722.6) scale(0.8 1)">(</text><text transform="translate(390.88 1722.6) scale(0.96 1)">0</text><text transform="translate(407.8 1722.6) scale(1.09 1)">°</text><text transform="translate(419.3 1722.6) scale(1.2 1)">,</text><text transform="translate(431.22 1722.6) scale(0.8 1)">1</text><text transform="translate(449.24 1722.6) scale(0.99 1)">0</text><text transform="translate(468.18 1722.6) scale(0.9 1)">3</text><text transform="translate(486.38 1722.6) scale(0.96 1)">0</text><text transform="translate(504.67 1722.6) scale(1.2 1)">-</text><text transform="translate(520.52 1722.6) scale(0.8 1)">1</text><text transform="translate(538.15 1722.6) scale(0.98 1)">0</text><text transform="translate(556.63 1722.6) scale(0.95 1)">6</text><text transform="translate(575.28 1722.6) scale(0.96 1)">4</text><text transform="translate(594.22 1722.6) scale(0.96 1)">n</text><text transform="translate(614.4 1722.6) scale(1.02 1)">m</text><text transform="translate(644.65 1722.6) scale(0.8 1)">)</text></g>
<g font-family='"Liberation Sans", sans-serif' font-size="32.5" fill="#000" stroke="#fff" stroke-width="0.7"><text transform="translate(1285.94 1674) scale(0.9 1)">A</text><text transform="translate(1306.5 1674) scale(0.82 1)">R</text><text transform="translate(1326.89 1674) scale(0.8 1)">(</text><text transform="translate(1337.18 1674) scale(0.96 1)">0</text><text transform="translate(1354.1 1674) scale(1.09 1)">°</text><text transform="translate(1365.6 1674) scale(1.2 1)">,</text><text transform="translate(1378.37 1674) scale(0.87 1)">5</text><text transform="translate(1396.82 1674) scale(0.8 1)">1</text><text transform="translate(1415.47 1674) scale(0.87 1)">5</text><text transform="translate(1432.69 1674) scale(1.18 1)">-</text><text transform="translate(1448.13 1674) scale(0.9 1)">5</text><text transform="translate(1466.31 1674) scale(0.96 1)">3</text><text transform="translate(1484.17 1674) scale(1 1)">2</text><text transform="translate(1503.52 1674) scale(0.96 1)">n</text><text transform="translate(1523.7 1674) scale(1.02 1)">m</text><text transform="translate(1553.95 1674) scale(0.8 1)">)</text><text transform="translate(1562.4 1674) scale(1 1)">&lt;</text><text transform="translate(1582.02 1674) scale(0.93 1)">0</text><text transform="translate(1598.94 1674) scale(1.2 1)">.</text><text transform="translate(1610.29 1674) scale(0.93 1)">5</text><text transform="translate(1629.35 1674) scale(0.82 1)">%</text></g>
<g font-family='"Liberation Sans", sans-serif' font-size="32.5" fill="#000" stroke="#fff" stroke-width="0.7"><text transform="translate(1285.94 1722.6) scale(0.87 1)">A</text><text transform="translate(1306.57 1722.6) scale(0.8 1)">R</text><text transform="translate(1326.89 1722.6) scale(0.8 1)">(</text><text transform="translate(1337.18 1722.6) scale(0.96 1)">0</text><text transform="translate(1354.1 1722.6) scale(1.09 1)">°</text><text transform="translate(1365.6 1722.6) scale(1.2 1)">,</text><text transform="translate(1377.52 1722.6) scale(0.8 1)">1</text><text transform="translate(1395.54 1722.6) scale(0.99 1)">0</text><text transform="translate(1414.48 1722.6) scale(0.9 1)">3</text><text transform="translate(1432.68 1722.6) scale(0.96 1)">0</text><text transform="translate(1450.97 1722.6) scale(1.2 1)">-</text><text transform="translate(1466.82 1722.6) scale(0.8 1)">1</text><text transform="translate(1484.45 1722.6) scale(0.98 1)">0</text><text transform="translate(1502.93 1722.6) scale(0.95 1)">6</text><text transform="translate(1521.58 1722.6) scale(0.96 1)">4</text><text transform="translate(1540.52 1722.6) scale(0.96 1)">n</text><text transform="translate(1560.7 1722.6) scale(1.02 1)">m</text><text transform="translate(1590.95 1722.6) scale(0.8 1)">)</text></g>
</svg>
</body></html>
